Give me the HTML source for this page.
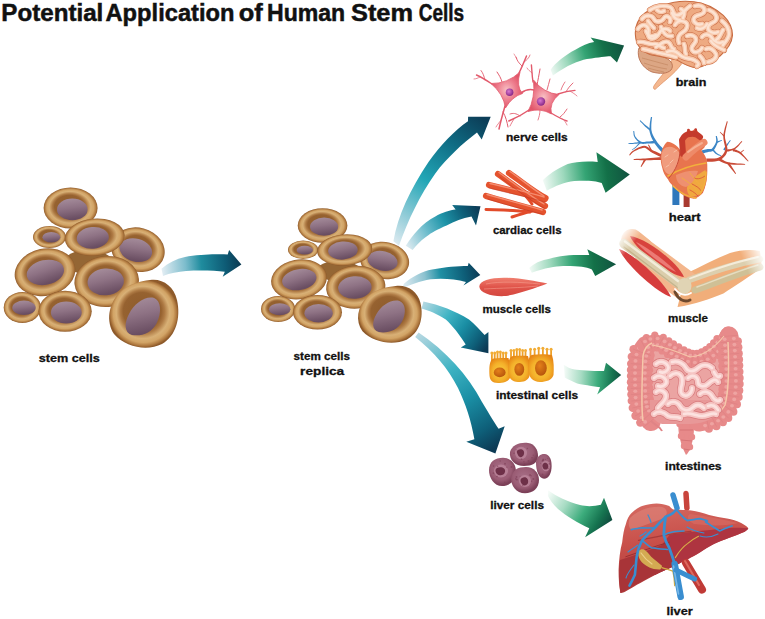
<!DOCTYPE html>
<html><head><meta charset="utf-8">
<style>
html,body{margin:0;padding:0;background:#fff;width:765px;height:619px;overflow:hidden}
svg{display:block}
.t{font-family:"Liberation Sans",sans-serif;font-weight:bold;fill:#111}
.ti{font-size:23.5px;stroke:#111;stroke-width:0.5}
.lb{font-size:11.5px;stroke:#111;stroke-width:0.3}
</style></head><body>
<svg width="765" height="619" viewBox="0 0 765 619">
<defs>
  <radialGradient id="cg" cx="50%" cy="50%" r="50%" fx="45%" fy="42%">
    <stop offset="0" stop-color="#8e5c2c"/>
    <stop offset="0.55" stop-color="#966230"/>
    <stop offset="0.64" stop-color="#ae7a44"/>
    <stop offset="0.77" stop-color="#d8b076"/>
    <stop offset="0.87" stop-color="#d2a466"/>
    <stop offset="0.95" stop-color="#b07a40"/>
    <stop offset="1" stop-color="#8e5a2a"/>
  </radialGradient>
  <linearGradient id="ng" x1="0" y1="0" x2="0.2" y2="1">
    <stop offset="0" stop-color="#a8909e"/>
    <stop offset="0.5" stop-color="#8e7284"/>
    <stop offset="1" stop-color="#6a4e62"/>
  </linearGradient>
  <g id="cell">
    <ellipse cx="0" cy="0" rx="1" ry="1" fill="url(#cg)"/>
  </g>
  <g id="cluster">
    <ellipse cx="88" cy="262" rx="24" ry="12" fill="#946634"/>
    <!-- C -->
    <g transform="translate(138,249.7) rotate(15)"><ellipse rx="27" ry="22" fill="url(#cg)"/><ellipse cx="-2" cy="1" rx="16.6" ry="11.5" fill="url(#ng)"/></g>
    <!-- T -->
    <g transform="translate(70.6,208)"><ellipse rx="27" ry="20.5" fill="url(#cg)"/><ellipse cx="1.7" cy="1.4" rx="15.3" ry="10.8" fill="url(#ng)"/></g>
    <!-- S -->
    <g transform="translate(49.5,237)"><ellipse rx="16.5" ry="11" fill="url(#cg)"/><ellipse cx="1.8" cy="0.3" rx="8.9" ry="5.2" fill="url(#ng)"/></g>
    <!-- B -->
    <g transform="translate(94.7,237.2) rotate(-5)"><ellipse rx="30" ry="18.6" fill="url(#cg)"/><ellipse cx="-2" cy="0.5" rx="16.1" ry="10.8" fill="url(#ng)"/></g>
    <!-- D -->
    <g transform="translate(45,272.2) rotate(-12)"><ellipse rx="30.6" ry="23.6" fill="url(#cg)"/><ellipse cx="0.3" cy="0.3" rx="18.9" ry="12.4" fill="url(#ng)"/></g>
    <!-- E -->
    <g transform="translate(106.7,281.5) rotate(-5)"><ellipse rx="32.3" ry="25.5" fill="url(#cg)"/><ellipse cx="-1" cy="0.3" rx="18.2" ry="13.4" fill="url(#ng)"/></g>
    <!-- F -->
    <g transform="translate(22.3,307.5)"><ellipse rx="18.6" ry="15.5" fill="url(#cg)"/><ellipse cx="1.7" cy="0.3" rx="11.7" ry="7.2" fill="url(#ng)"/></g>
    <!-- G -->
    <g transform="translate(65.1,311.3)"><ellipse rx="26.6" ry="20.5" fill="url(#cg)"/><ellipse cx="1.2" cy="1.2" rx="15.4" ry="10.9" fill="url(#ng)"/></g>
    <!-- H -->
    <path d="M150,280 C162,278 174,286 177,300 C181,318 176,336 162,344 C148,351 126,348 114,334 C106,322 108,304 120,292 C128,284 140,281 150,280 Z" fill="url(#cg)"/>
    <path d="M158,293 C166,296 167,310 161,322 C155,334 143,338 132,336 C123,333 123,322 129,311 C135,299 148,290 158,293 Z" fill="url(#ng)" transform="translate(143,316) scale(0.86) translate(-145,-314)"/>
  </g>
</defs>

<text class="t ti" x="1.3" y="21.2" textLength="102.0" lengthAdjust="spacingAndGlyphs">Potential</text>
<text class="t ti" x="105.5" y="21.2" textLength="129.0" lengthAdjust="spacingAndGlyphs">Application</text>
<text class="t ti" x="238.8" y="21.2" textLength="24.0" lengthAdjust="spacingAndGlyphs">of</text>
<text class="t ti" x="267.0" y="21.2" textLength="78.2" lengthAdjust="spacingAndGlyphs">Human</text>
<text class="t ti" x="351.0" y="21.2" textLength="62.0" lengthAdjust="spacingAndGlyphs">Stem</text>
<text class="t ti" x="418.8" y="21.2" textLength="45.3" lengthAdjust="spacingAndGlyphs">Cells</text>


<defs>
  <linearGradient id="ba0" gradientUnits="userSpaceOnUse" x1="162" y1="270" x2="241" y2="264">
    <stop offset="0" stop-color="#e2edf3"/><stop offset="0.3" stop-color="#7cbccc"/><stop offset="0.5" stop-color="#1f8c9e"/><stop offset="0.8" stop-color="#0e5c76"/><stop offset="1" stop-color="#0b3a52"/>
  </linearGradient>
  <linearGradient id="ba1" gradientUnits="userSpaceOnUse" x1="396" y1="244" x2="485" y2="120">
    <stop offset="0" stop-color="#dceaf0"/><stop offset="0.2" stop-color="#8ccad6"/><stop offset="0.45" stop-color="#22a6b6"/><stop offset="0.75" stop-color="#0f6c84"/><stop offset="1" stop-color="#0c3e58"/>
  </linearGradient>
  <linearGradient id="ba2" gradientUnits="userSpaceOnUse" x1="408" y1="248" x2="480" y2="210">
    <stop offset="0" stop-color="#dceaf0"/><stop offset="0.3" stop-color="#6cbccc"/><stop offset="0.55" stop-color="#1e94a8"/><stop offset="0.8" stop-color="#0e5e78"/><stop offset="1" stop-color="#0c3a55"/>
  </linearGradient>
  <linearGradient id="ba3" gradientUnits="userSpaceOnUse" x1="402" y1="285" x2="480" y2="272">
    <stop offset="0" stop-color="#e4eef4"/><stop offset="0.3" stop-color="#8cc2d0"/><stop offset="0.5" stop-color="#2090a4"/><stop offset="0.8" stop-color="#0e5e78"/><stop offset="1" stop-color="#0c3a55"/>
  </linearGradient>
  <linearGradient id="ba4" gradientUnits="userSpaceOnUse" x1="422" y1="305" x2="485" y2="350">
    <stop offset="0" stop-color="#b4d8e2"/><stop offset="0.35" stop-color="#40b4c4"/><stop offset="0.6" stop-color="#1a8ea4"/><stop offset="0.85" stop-color="#0e5e78"/><stop offset="1" stop-color="#0c3a55"/>
  </linearGradient>
  <linearGradient id="ba5" gradientUnits="userSpaceOnUse" x1="416" y1="335" x2="492" y2="450">
    <stop offset="0" stop-color="#b8d8e2"/><stop offset="0.35" stop-color="#3cb2c2"/><stop offset="0.6" stop-color="#1a8ea4"/><stop offset="0.85" stop-color="#0e5e78"/><stop offset="1" stop-color="#0c3a55"/>
  </linearGradient>
  <linearGradient id="ga1" gradientUnits="userSpaceOnUse" x1="550" y1="72" x2="624" y2="48">
    <stop offset="0" stop-color="#f4fbf7"/><stop offset="0.25" stop-color="#9cd8bc"/><stop offset="0.5" stop-color="#34a474"/><stop offset="0.75" stop-color="#137048"/><stop offset="1" stop-color="#115440"/>
  </linearGradient>
  <linearGradient id="ga2" gradientUnits="userSpaceOnUse" x1="543" y1="185" x2="629" y2="175">
    <stop offset="0" stop-color="#f4fbf7"/><stop offset="0.25" stop-color="#9cd8bc"/><stop offset="0.5" stop-color="#34a474"/><stop offset="0.75" stop-color="#137048"/><stop offset="1" stop-color="#115440"/>
  </linearGradient>
  <linearGradient id="ga3" gradientUnits="userSpaceOnUse" x1="529" y1="270" x2="616" y2="264">
    <stop offset="0" stop-color="#f4fbf7"/><stop offset="0.25" stop-color="#9cd8bc"/><stop offset="0.5" stop-color="#34a474"/><stop offset="0.75" stop-color="#137048"/><stop offset="1" stop-color="#115440"/>
  </linearGradient>
  <linearGradient id="ga4" gradientUnits="userSpaceOnUse" x1="564" y1="372" x2="621" y2="375">
    <stop offset="0" stop-color="#f4fbf7"/><stop offset="0.3" stop-color="#a8dcc4"/><stop offset="0.6" stop-color="#3cac7c"/><stop offset="0.85" stop-color="#167450"/><stop offset="1" stop-color="#105040"/>
  </linearGradient>
  <linearGradient id="ga5" gradientUnits="userSpaceOnUse" x1="549" y1="493" x2="606" y2="527">
    <stop offset="0" stop-color="#f4fbf7"/><stop offset="0.3" stop-color="#a8dcc4"/><stop offset="0.6" stop-color="#3cac7c"/><stop offset="0.85" stop-color="#167450"/><stop offset="1" stop-color="#105040"/>
  </linearGradient>
</defs>
<path fill="url(#ba0)" d="M161.5,268.8 C168,263 176,259 185,257 C196,255 210,254 227.7,254.4 L229.1,250 L241.4,264.5 L222.7,276.7 L224.8,271.7 C215,270.5 200,270 186,270.9 C178,271.5 170,273 163,276 Z"/>
<path fill="url(#ba1)" d="M393.4,241.3 C398,215 410,190 428.5,162 C440,146 455,130 468,121.3 L468.1,116.8 L490.7,116.8 L481.7,139.4 L477,132.6 C462,144 447,158 435.3,173.4 C420,195 408,220 399,245.8 Z"/>
<path fill="url(#ba2)" d="M405.8,245.8 C412,236 422,223 435.3,216.4 C442,213 450,210 455.6,209.6 L452.2,205 L480.5,206.2 L476,225.4 L471.5,216.4 C462,218 455,221 446.6,225.4 C438,229 432,232 426.2,236.8 C420,241 416,246 412.6,250 Z"/>
<path fill="url(#ba3)" d="M403.9,283.7 C412,277 422,271 432,269.5 C445,267 458,266 467.8,266 L468.7,262.8 L480.3,274.9 L463.4,285.5 L466,282 C455,279 442,278 430.5,279.3 C420,281 410,285 402.1,288.2 Z"/>
<path fill="url(#ba4)" d="M423.4,301.5 C440,305 455,311 469,319.4 C475,324 480,330 484.6,334.9 L488.4,332 L488.4,353.3 L460.8,347.5 L465.7,344.6 C460,335 452,325 445.8,319.4 C437,314 430,311 421.6,308.6 Z"/>
<path fill="url(#ba5)" d="M418.6,332.4 C445,350 468,375 482,402 C490,415 495,424 498.6,428.7 L504.7,426.3 L495.4,453.4 L466.3,441.7 L474.4,439.2 C471,420 466,405 458,388 C448,368 434,352 415.2,337 Z"/>
<path fill="url(#ga1)" d="M550.6,69.7 C555,63 565,55 575.3,49.7 C582,46 588,43 594.1,42.1 L590.6,37.4 L624.1,45.6 L617,62.6 L610.6,56.2 C605,56.5 600,57 587,59.1 C578,61 568,65 552.9,75.6 Z"/>
<path fill="url(#ga2)" d="M542.8,180.3 C548,175 556,169 567.7,164 C575,162 585,161 597.7,162 L596.4,152.2 L629.8,174.4 L605.6,192.7 L601.7,182.9 C595,181 588,180.3 574.2,181 C565,182 555,186 546.8,190.8 Z"/>
<path fill="url(#ga3)" d="M529.2,268.1 C535,263 540,261 546.1,259.6 C555,257 565,255 578.8,255 L589.3,255 L587.3,249.2 L616.1,264.2 L595.2,276 L591.9,269.4 C585,267 580,266 563.1,266.1 C555,266.5 545,268 531.8,272.7 Z"/>
<path fill="url(#ga4)" d="M563.8,364.7 C567,367 570,368.5 574.6,369.6 C580,370.5 590,371.1 604,371.1 L606,362.7 L621.2,375 L597.2,394.6 L600.1,387.3 C595,386.5 590,386 587.4,385.3 C582,384.5 578,384 576.6,383.3 C572,381 568,379.5 564.8,377.5 Z"/>
<path fill="url(#ga5)" d="M548.4,490.5 C556,496 568,502 580,505 C588,507 595,506 600.9,504.7 L604,497.8 L612.4,519.9 L585.1,537.2 L589.3,528.3 C578,523 566,516 558,509 C553,504 550,500 547.9,495.7 Z"/>
<use href="#cluster"/>
<use href="#cluster" transform="translate(261,208.5) scale(0.92,0.84) translate(-3.7,-187.8)"/>



<!-- ===== NERVE CELLS ===== -->
<g id="nerve">
  <defs>
    <radialGradient id="nrg" cx="50%" cy="50%" r="50%">
      <stop offset="0" stop-color="#f8c0c4"/><stop offset="0.55" stop-color="#ee8090"/><stop offset="1" stop-color="#e2566a"/>
    </radialGradient>
    <radialGradient id="nucg" cx="40%" cy="40%" r="60%">
      <stop offset="0" stop-color="#d878d0"/><stop offset="1" stop-color="#8a2a88"/>
    </radialGradient>
  </defs>
  <g fill="none" stroke="#e25a6c" stroke-linecap="round">
    <path d="M492,84 C486,80 481,77 476.5,75" stroke-width="1.4"/>
    <path d="M485,80 C484,76 483,73 481,70.5" stroke-width="0.9"/>
    <path d="M480,77 C478,78 476,79 474,79" stroke-width="0.7"/>
    <path d="M502,82 C501,78 499,75 497,72" stroke-width="1"/>
    <path d="M519,73 C522,67 524,62 526.5,56" stroke-width="1.5"/>
    <path d="M522,66 C519,63 517,61 516,57" stroke-width="0.9"/>
    <path d="M524,62 C527,60 529,58 530,55" stroke-width="0.8"/>
    <path d="M517,59 C516,57 515,56 514,54" stroke-width="0.6"/>
    <path d="M505,106 C503,113 501,120 499,129" stroke-width="1.5"/>
    <path d="M503,112 C506,117 507,122 508,127" stroke-width="1"/>
    <path d="M501,120 C499,123 497,125 496,127" stroke-width="0.7"/>
    <path d="M521,93 C525,90 530,89 534,90" stroke-width="1.6"/>
    <path d="M533,82 C532,76 532,71 531.4,65" stroke-width="1.4"/>
    <path d="M537,85 C538,80 539,75 540,69" stroke-width="1"/>
    <path d="M532,73 C530,71 528,70 527,68" stroke-width="0.7"/>
    <path d="M558,94 C564,92 569,91 575,90.4" stroke-width="1.4"/>
    <path d="M566,92 C568,88 570,86 573,83" stroke-width="0.9"/>
    <path d="M561,90 C562,87 563,85 565,82" stroke-width="0.8"/>
    <path d="M570,91 C573,93 575,94 577,96" stroke-width="0.7"/>
    <path d="M551,113 C556,116 561,119 567,121" stroke-width="1.4"/>
    <path d="M560,117 C563,115 565,112 567,109" stroke-width="0.9"/>
    <path d="M563,119 C565,121 566,123 567,125" stroke-width="0.7"/>
    <path d="M529,110 C522,115 516,118 508.8,121" stroke-width="1.5"/>
    <path d="M520,116 C516,113 513,113 510,114" stroke-width="0.9"/>
    <path d="M514,119 C512,122 511,124 510,126" stroke-width="0.8"/>
    <path d="M547,90 C548,86 549,83 550,79" stroke-width="0.9"/>
    <path d="M540,110 C540,114 539,117 538,120" stroke-width="0.8"/>
  </g>
  <path d="M491.0,83.5 Q507.3,83.9 520.0,72.0 Q516.0,86.7 522.5,93.5 Q512.0,96.6 505.5,108.0 Q503.4,93.8 491.0,83.5 Z" fill="url(#nrg)" stroke="#e25a6c" stroke-width="0.8"/>
  <path d="M533.5,80.0 Q543.9,93.4 559.0,94.5 Q548.8,102.8 551.5,114.0 Q540.3,107.5 528.0,111.5 Q535.4,98.1 533.5,80.0 Z" fill="url(#nrg)" stroke="#e25a6c" stroke-width="0.8"/>
  <circle cx="509.6" cy="92.2" r="3.8" fill="url(#nucg)"/>
  <circle cx="541" cy="101.5" r="4.2" fill="url(#nucg)"/>
</g>

<!-- ===== CARDIAC CELLS ===== -->
<g id="cardiac" fill="none" stroke-linecap="round" filter="url(#softc)">
  <defs><filter id="softc" x="-10%" y="-10%" width="120%" height="120%"><feGaussianBlur stdDeviation="0.45"/></filter></defs>
  <g stroke="#e4522e" stroke-width="6.2">
    <path d="M498,174 C515,186 530,198 545,206"/>
    <path d="M509,173 C522,182 534,192 545.5,198"/>
    <path d="M489,185 C508,190 528,194 545,199"/>
    <path d="M486,196 C506,202 526,207 543,212"/>
  </g>
  <g stroke="#e24c2c" stroke-width="3">
    <path d="M486,209.5 C500,210 514,210 530,212"/>
    <path d="M512,217 C518,215 524,213 532,211"/>
    <path d="M520,190 C524,194 528,198 532,204"/>
  </g>
  <g stroke="#f8977a" stroke-width="1.4" opacity="0.85">
    <path d="M499,172.5 C515,184 530,196 544,204"/>
    <path d="M510,171.5 C522,180 534,190 544,196"/>
    <path d="M490,183.5 C508,188 528,192 544,197"/>
    <path d="M487,194.5 C506,200 526,205 542,210"/>
  </g>
  <g stroke="#b83220" stroke-width="0.8" opacity="0.6">
    <path d="M500,177 C515,189 530,200 544,208"/>
    <path d="M489,188 C508,193 528,197 545,202"/>
    <path d="M488,199 C506,205 526,210 542,214"/>
  </g>
</g>

<!-- ===== MUSCLE CELL ===== -->
<g id="musclecell">
  <defs>
    <linearGradient id="mcg" x1="0" y1="0" x2="0" y2="1">
      <stop offset="0" stop-color="#f08070"/><stop offset="0.5" stop-color="#e0544a"/><stop offset="1" stop-color="#d44840"/>
    </linearGradient>
  </defs>
  <path d="M479.4,287 C478.5,281 490,277.5 505,277.7 C520,278 535,281 547.4,283.5 C535,288 522,293 506,296 C492,297 480,293 479.4,287 Z" fill="url(#mcg)"/>
  <g stroke="#f6a090" stroke-width="0.7" fill="none" opacity="0.8">
    <path d="M486,284 C500,281 520,282 540,284"/>
    <path d="M484,289 C500,288 520,288 538,286"/>
  </g>
</g>

<!-- ===== INTESTINAL CELLS ===== -->
<g id="intestinal">
  <defs>
    <radialGradient id="icg" cx="50%" cy="55%" r="60%">
      <stop offset="0" stop-color="#fad040"/><stop offset="0.6" stop-color="#f4b02a"/><stop offset="1" stop-color="#e68414"/>
    </radialGradient>
    <radialGradient id="inucg" cx="40%" cy="35%" r="65%">
      <stop offset="0" stop-color="#e4801a"/><stop offset="1" stop-color="#b8560c"/>
    </radialGradient>
  </defs>
  <g stroke="#eea028" stroke-width="1.8" stroke-linecap="round" fill="none">
    <path d="M491.9,360.6 L491.9,354.6"/><path d="M494.7,360.6 L494.7,354.6"/><path d="M497.5,360.6 L497.5,353.6"/><path d="M500.4,360.6 L500.4,353.6"/><path d="M503.2,360.6 L503.2,354.6"/><path d="M506.0,360.6 L506.0,354.6"/><path d="M511.0,358.0 L511.0,352.0"/><path d="M513.9,358.0 L513.9,352.0"/><path d="M516.8,358.0 L516.8,351.0"/><path d="M519.7,358.0 L519.7,351.0"/><path d="M522.6,358.0 L522.6,352.0"/><path d="M525.5,358.0 L525.5,352.0"/><path d="M530.5,356.7 L530.5,350.7"/><path d="M534.6,356.7 L534.6,350.7"/><path d="M538.7,356.7 L538.7,349.7"/><path d="M542.9,356.7 L542.9,349.7"/><path d="M547.0,356.7 L547.0,350.7"/><path d="M551.1,356.7 L551.1,350.7"/>
  </g>
  <g fill="#f2ac34">
    <circle cx="491.9" cy="353.1" r="1.5"/><circle cx="494.7" cy="353.1" r="1.5"/><circle cx="497.5" cy="352.1" r="1.5"/><circle cx="500.4" cy="352.1" r="1.5"/><circle cx="503.2" cy="353.1" r="1.5"/><circle cx="506.0" cy="353.1" r="1.5"/><circle cx="511.0" cy="350.5" r="1.5"/><circle cx="513.9" cy="350.5" r="1.5"/><circle cx="516.8" cy="349.5" r="1.5"/><circle cx="519.7" cy="349.5" r="1.5"/><circle cx="522.6" cy="350.5" r="1.5"/><circle cx="525.5" cy="350.5" r="1.5"/><circle cx="530.5" cy="349.2" r="1.5"/><circle cx="534.6" cy="349.2" r="1.5"/><circle cx="538.7" cy="348.2" r="1.5"/><circle cx="542.9" cy="348.2" r="1.5"/><circle cx="547.0" cy="349.2" r="1.5"/><circle cx="551.1" cy="349.2" r="1.5"/>
  </g>
  <path d="M489.4,374 C489,366 490,359 494,358.6 C499,358 504,358 508.5,358 C510,364 511,372 510,378 C508,382 503,383 498,383 C492,383 489.5,380 489.4,374 Z" fill="url(#icg)"/>
  <path d="M508,370 C508,362 509,357 513,356 C518,355.5 524,355.5 528,356 C530,362 530,370 529.5,376 C528,381 523,382 518,382 C512,382 508,378 508,370 Z" fill="url(#icg)"/>
  <path d="M528,368 C528,360 529,355 533,354.7 C539,354 547,354 552,355 C554,361 554,369 553.5,375 C552,380 546,382 540,382 C533,382 528,377 528,368 Z" fill="url(#icg)"/>
  <ellipse cx="499.7" cy="372.4" rx="5.9" ry="4.9" fill="url(#inucg)"/>
  <ellipse cx="519.3" cy="369.4" rx="4.9" ry="6.4" fill="url(#inucg)"/>
  <ellipse cx="540.9" cy="368" rx="5.9" ry="7.8" fill="url(#inucg)"/>
</g>

<!-- ===== LIVER CELLS ===== -->
<g id="livercells">
  <defs>
    <radialGradient id="lcg" cx="45%" cy="40%" r="55%">
      <stop offset="0" stop-color="#a87088"/><stop offset="0.7" stop-color="#9a5c74"/><stop offset="1" stop-color="#7c4058"/>
    </radialGradient>
    <radialGradient id="lnucg" cx="50%" cy="50%" r="50%">
      <stop offset="0" stop-color="#6a2c44"/><stop offset="0.65" stop-color="#80405a"/><stop offset="1" stop-color="#b88498"/>
    </radialGradient>
  </defs>
  <path d="M510,452 C512,445 520,442 528,443 C535,444 538,450 538,456 C538,463 532,466 524,466 C515,466 509,460 510,452 Z" fill="url(#lcg)"/>
  <path d="M489,470 C489,462 495,457.8 503,457.8 C511,458 516,464 516,472 C516,480 510,486 502,486 C494,486 489,478 489,470 Z" fill="url(#lcg)"/>
  <path d="M536,462 C537,456 541,453.6 545,454 C550,455 551.6,460 551.6,466 C551.6,473 549,478.7 544,478.7 C539,478 536,472 536,462 Z" fill="url(#lcg)"/>
  <path d="M511,478 C512,470 518,467 526,467 C534,467 539,473 539,480 C539,488 533,493.3 525,493.3 C516,493 511,486 511,478 Z" fill="url(#lcg)"/>
  <ellipse cx="521" cy="453" rx="6" ry="6.2" fill="#c08aa0" opacity="0.7"/>
  <ellipse cx="501" cy="471" rx="7" ry="6.5" fill="#c08aa0" opacity="0.7"/>
  <ellipse cx="546" cy="466" rx="4.2" ry="5.2" fill="#c08aa0" opacity="0.7"/>
  <ellipse cx="525" cy="481" rx="6" ry="6" fill="#c08aa0" opacity="0.7"/>
  <path d="M518,450 C521,448 525,450 524,454 C523,458 519,458 518,455 C517,453 516,451 518,450 Z" fill="#6e3048"/>
  <path d="M497,468 C501,466 506,468 505,472 C504,476 499,476 497,474 C495,472 495,469 497,468 Z" fill="#6e3048"/>
  <path d="M544,463 C547,462 549,465 548,468 C547,470 544,470 543,468 C542,466 542,464 544,463 Z" fill="#6e3048"/>
  <path d="M522,478 C526,476 529,479 528,483 C527,486 523,486 522,484 C520,482 520,479 522,478 Z" fill="#6e3048"/>
  <circle cx="523.9" cy="461.8" r="0.7" fill="#7a3a52" opacity="0.55"/>
  <circle cx="516.3" cy="449.8" r="0.5" fill="#7a3a52" opacity="0.55"/>
  <circle cx="533.2" cy="455.2" r="0.6" fill="#7a3a52" opacity="0.55"/>
  <circle cx="524.4" cy="463.9" r="0.7" fill="#7a3a52" opacity="0.55"/>
  <circle cx="527.4" cy="448.5" r="0.8" fill="#7a3a52" opacity="0.55"/>
  <circle cx="528.5" cy="460.8" r="0.9" fill="#7a3a52" opacity="0.55"/>
  <circle cx="514.0" cy="453.3" r="0.8" fill="#7a3a52" opacity="0.55"/>
  <circle cx="532.0" cy="457.8" r="0.8" fill="#7a3a52" opacity="0.55"/>
  <circle cx="521.5" cy="459.1" r="0.9" fill="#7a3a52" opacity="0.55"/>
  <circle cx="493.4" cy="473.1" r="0.9" fill="#7a3a52" opacity="0.55"/>
  <circle cx="500.2" cy="461.0" r="0.7" fill="#7a3a52" opacity="0.55"/>
  <circle cx="505.0" cy="463.8" r="1.0" fill="#7a3a52" opacity="0.55"/>
  <circle cx="506.8" cy="467.2" r="0.6" fill="#7a3a52" opacity="0.55"/>
  <circle cx="504.7" cy="482.3" r="0.7" fill="#7a3a52" opacity="0.55"/>
  <circle cx="497.6" cy="466.3" r="0.8" fill="#7a3a52" opacity="0.55"/>
  <circle cx="497.0" cy="476.5" r="0.8" fill="#7a3a52" opacity="0.55"/>
  <circle cx="493.6" cy="466.1" r="0.8" fill="#7a3a52" opacity="0.55"/>
  <circle cx="511.5" cy="467.0" r="1.0" fill="#7a3a52" opacity="0.55"/>
  <circle cx="542.4" cy="460.9" r="0.9" fill="#7a3a52" opacity="0.55"/>
  <circle cx="549.4" cy="463.9" r="0.8" fill="#7a3a52" opacity="0.55"/>
  <circle cx="543.2" cy="460.2" r="0.9" fill="#7a3a52" opacity="0.55"/>
  <circle cx="540.6" cy="463.2" r="0.5" fill="#7a3a52" opacity="0.55"/>
  <circle cx="547.5" cy="458.2" r="0.5" fill="#7a3a52" opacity="0.55"/>
  <circle cx="545.3" cy="459.4" r="0.6" fill="#7a3a52" opacity="0.55"/>
  <circle cx="542.6" cy="474.4" r="0.9" fill="#7a3a52" opacity="0.55"/>
  <circle cx="548.5" cy="468.2" r="0.5" fill="#7a3a52" opacity="0.55"/>
  <circle cx="543.2" cy="459.5" r="0.9" fill="#7a3a52" opacity="0.55"/>
  <circle cx="533.4" cy="479.1" r="1.0" fill="#7a3a52" opacity="0.55"/>
  <circle cx="522.8" cy="485.2" r="0.8" fill="#7a3a52" opacity="0.55"/>
  <circle cx="531.6" cy="481.2" r="0.7" fill="#7a3a52" opacity="0.55"/>
  <circle cx="520.0" cy="476.2" r="0.5" fill="#7a3a52" opacity="0.55"/>
  <circle cx="530.0" cy="475.0" r="1.0" fill="#7a3a52" opacity="0.55"/>
  <circle cx="531.2" cy="475.7" r="0.7" fill="#7a3a52" opacity="0.55"/>
  <circle cx="515.8" cy="478.9" r="0.8" fill="#7a3a52" opacity="0.55"/>
  <circle cx="516.5" cy="476.9" r="1.0" fill="#7a3a52" opacity="0.55"/>
  <circle cx="517.0" cy="479.7" r="0.9" fill="#7a3a52" opacity="0.55"/>
</g>

<!-- ===== BRAIN ===== -->
<g id="brain">
  <path d="M676,57 C679,60 681,62 681.5,64 C678,69 673,74 667,79 C662,83 658,87 655,89.5 C653,89 653,87 654.5,85 C658,80 663,74 667,69 C670,65 672,61 672,58 Z" fill="#f4b890" stroke="#dc8c5e" stroke-width="0.7"/>
  <path d="M639,48 C647,50 657,54 666,58 C672,61 674,66 671,70 C667,74 660,74 652,72 C645,69 641,64 639,58 C638,54 638,51 639,48 Z" fill="#dca684" stroke="#b87050" stroke-width="0.9"/>
  <g stroke="#b07048" stroke-width="0.5" fill="none" opacity="0.8">
    <path d="M642,58 C650,60 660,63 668,65"/><path d="M644,63 C652,66 660,68 667,69"/><path d="M648,68 C654,70 660,71 664,72"/>
  </g>
  <path d="M663.4,5.4 C672,2 684,0.5 694,1.8 C705,3 716,9 723.3,15.4 C729,21 732.5,29 732.5,35.3 C732,43 727,50 720,56 C713,61 704,67 697.2,67.6 C690,68 682,63 677,60 C670,58 660,57 650,54.5 C641,51 636,44 635.5,36 C634.5,27 638,19 645,13 C650,9 657,7 663.4,5.4 Z" fill="#eeaa82" stroke="#c86c42" stroke-width="1.1"/>
  <g fill="none" stroke-linecap="round" stroke-linejoin="round">
    <g stroke="#d27850" stroke-width="6.2"><path d="M643,49 C650,50.5 656,52.5 662,53.5 C668,54.5 672,56 676,57"/><path d="M650,10 C656,6 664,5 670,7 C674,9 672,14 676,15 C682,16 684,10 690,6"/>
<path d="M642,19 C646,14 652,15 654,19 C656,23 662,22 664,18 C666,14 672,18 670,22"/>
<path d="M638,29 C641,24 646,24 648,28 C650,32 646,36 650,38 C654,40 658,36 660,32 C662,28 668,28 670,31"/>
<path d="M639,42 C644,41 650,45 654,44 C658,43 660,47 664,48"/>
<path d="M675,25 C677,21 681,20 685,22 C689,24 687,30 683,32 C679,34 677,38 679,43"/>
<path d="M695,6 C701,4 706,8 704,12 C702,16 696,14 694,18 C692,22 698,26 702,24"/>
<path d="M709,10 C714,12 718,16 716,20 C714,24 708,22 708,28 C708,32 714,34 718,32"/>
<path d="M722,21 C726,24 729,28 729,34 C729,38 726,41 723,45"/>
<path d="M687,36 C691,34 696,36 696,40 C696,44 690,46 692,50 C694,54 700,52 702,48"/>
<path d="M702,37 C705,33 710,34 712,38 C714,42 719,44 723,42"/>
<path d="M706,49 C710,47 714,50 716,54 C717,58 713,61 708,62"/>
<path d="M667,52 C671,50 676,51 680,55 C684,59 690,58 694,60 C698,62 700,64 697,66"/>
<path d="M656,47 C660,45 664,40 668,42 C672,44 670,48 674,49"/>
<path d="M661,27 C663,33 667,37 672,36"/>
<path d="M681,9 C685,11 685,14 683,18"/>
<path d="M697,28 C701,30 705,28 707,24"/>
<path d="M646,31 C648,37 652,37 656,35"/>
<path d="M657,10 C660,13 662,12 664,11"/>
<path d="M711,41 C714,46 720,48 724,50"/>
<path d="M684,44 C686,48 684,52 686,54"/>
<path d="M700,56 C702,58 704,60 704,63"/>
<path d="M723,30 C720,34 720,38 716,40"/>
<path d="M648,21 C650,24 652,26 654,28"/>
<path d="M672,13 C674,18 676,20 680,20"/></g>
    <g stroke="#f8caae" stroke-width="5.0"><path d="M643,49 C650,50.5 656,52.5 662,53.5 C668,54.5 672,56 676,57"/><path d="M650,10 C656,6 664,5 670,7 C674,9 672,14 676,15 C682,16 684,10 690,6"/>
<path d="M642,19 C646,14 652,15 654,19 C656,23 662,22 664,18 C666,14 672,18 670,22"/>
<path d="M638,29 C641,24 646,24 648,28 C650,32 646,36 650,38 C654,40 658,36 660,32 C662,28 668,28 670,31"/>
<path d="M639,42 C644,41 650,45 654,44 C658,43 660,47 664,48"/>
<path d="M675,25 C677,21 681,20 685,22 C689,24 687,30 683,32 C679,34 677,38 679,43"/>
<path d="M695,6 C701,4 706,8 704,12 C702,16 696,14 694,18 C692,22 698,26 702,24"/>
<path d="M709,10 C714,12 718,16 716,20 C714,24 708,22 708,28 C708,32 714,34 718,32"/>
<path d="M722,21 C726,24 729,28 729,34 C729,38 726,41 723,45"/>
<path d="M687,36 C691,34 696,36 696,40 C696,44 690,46 692,50 C694,54 700,52 702,48"/>
<path d="M702,37 C705,33 710,34 712,38 C714,42 719,44 723,42"/>
<path d="M706,49 C710,47 714,50 716,54 C717,58 713,61 708,62"/>
<path d="M667,52 C671,50 676,51 680,55 C684,59 690,58 694,60 C698,62 700,64 697,66"/>
<path d="M656,47 C660,45 664,40 668,42 C672,44 670,48 674,49"/>
<path d="M661,27 C663,33 667,37 672,36"/>
<path d="M681,9 C685,11 685,14 683,18"/>
<path d="M697,28 C701,30 705,28 707,24"/>
<path d="M646,31 C648,37 652,37 656,35"/>
<path d="M657,10 C660,13 662,12 664,11"/>
<path d="M711,41 C714,46 720,48 724,50"/>
<path d="M684,44 C686,48 684,52 686,54"/>
<path d="M700,56 C702,58 704,60 704,63"/>
<path d="M723,30 C720,34 720,38 716,40"/>
<path d="M648,21 C650,24 652,26 654,28"/>
<path d="M672,13 C674,18 676,20 680,20"/></g>
    <g stroke="#fde6d8" stroke-width="2.2" opacity="0.9"><path d="M643,49 C650,50.5 656,52.5 662,53.5 C668,54.5 672,56 676,57"/><path d="M650,10 C656,6 664,5 670,7 C674,9 672,14 676,15 C682,16 684,10 690,6"/>
<path d="M642,19 C646,14 652,15 654,19 C656,23 662,22 664,18 C666,14 672,18 670,22"/>
<path d="M638,29 C641,24 646,24 648,28 C650,32 646,36 650,38 C654,40 658,36 660,32 C662,28 668,28 670,31"/>
<path d="M639,42 C644,41 650,45 654,44 C658,43 660,47 664,48"/>
<path d="M675,25 C677,21 681,20 685,22 C689,24 687,30 683,32 C679,34 677,38 679,43"/>
<path d="M695,6 C701,4 706,8 704,12 C702,16 696,14 694,18 C692,22 698,26 702,24"/>
<path d="M709,10 C714,12 718,16 716,20 C714,24 708,22 708,28 C708,32 714,34 718,32"/>
<path d="M722,21 C726,24 729,28 729,34 C729,38 726,41 723,45"/>
<path d="M687,36 C691,34 696,36 696,40 C696,44 690,46 692,50 C694,54 700,52 702,48"/>
<path d="M702,37 C705,33 710,34 712,38 C714,42 719,44 723,42"/>
<path d="M706,49 C710,47 714,50 716,54 C717,58 713,61 708,62"/>
<path d="M667,52 C671,50 676,51 680,55 C684,59 690,58 694,60 C698,62 700,64 697,66"/>
<path d="M656,47 C660,45 664,40 668,42 C672,44 670,48 674,49"/>
<path d="M661,27 C663,33 667,37 672,36"/>
<path d="M681,9 C685,11 685,14 683,18"/>
<path d="M697,28 C701,30 705,28 707,24"/>
<path d="M646,31 C648,37 652,37 656,35"/>
<path d="M657,10 C660,13 662,12 664,11"/>
<path d="M711,41 C714,46 720,48 724,50"/>
<path d="M684,44 C686,48 684,52 686,54"/>
<path d="M700,56 C702,58 704,60 704,63"/>
<path d="M723,30 C720,34 720,38 716,40"/>
<path d="M648,21 C650,24 652,26 654,28"/>
<path d="M672,13 C674,18 676,20 680,20"/></g>
  </g>
</g>

<!-- ===== HEART ===== -->
<g id="heart" stroke-linecap="round" stroke-linejoin="round" fill="none">
  <g stroke="none">
  <path d="M665.3,150.8 L664.4,149.8 L663.0,148.5 L661.5,147.0 L659.9,145.4 L658.4,143.7 L657.2,142.2 L656.1,140.6 L655.1,139.0 L654.2,137.4 L653.3,135.7 L652.6,134.2 L652.0,132.7 L651.7,131.3 L651.4,130.1 L651.3,128.9 L651.3,127.6 L651.3,126.3 L651.3,125.0 L651.4,123.6 L651.5,122.1 L651.7,120.6 L651.8,119.2 L652.0,118.0 L652.1,117.1 L650.9,116.9 L650.8,117.8 L650.5,119.0 L650.3,120.4 L650.0,121.9 L649.8,123.5 L649.7,125.0 L649.6,126.3 L649.5,127.6 L649.4,128.9 L649.4,130.3 L649.6,131.8 L650.0,133.3 L650.5,135.0 L651.1,136.7 L651.9,138.5 L652.8,140.3 L653.8,142.1 L654.8,143.8 L656.1,145.6 L657.6,147.4 L659.1,149.2 L660.6,150.9 L661.8,152.2 L662.7,153.2 Z" fill="#3b86c6"/>
  <path d="M651.1,129.3 L650.4,128.8 L649.6,128.2 L648.6,127.4 L647.5,126.6 L646.4,125.8 L645.5,125.0 L644.5,124.2 L643.5,123.3 L642.5,122.3 L641.6,121.5 L640.9,120.7 L640.3,120.2 L639.7,120.8 L640.2,121.4 L640.9,122.2 L641.8,123.1 L642.7,124.1 L643.6,125.1 L644.5,126.0 L645.5,126.9 L646.5,127.8 L647.6,128.7 L648.5,129.5 L649.4,130.2 L649.9,130.7 Z" fill="#3b86c6"/>
  <path d="M655.9,140.8 L655.0,140.9 L653.8,141.0 L652.4,141.1 L650.8,141.3 L649.3,141.4 L647.9,141.5 L646.7,141.6 L645.4,141.8 L644.3,142.0 L643.2,142.1 L642.2,142.1 L641.3,141.8 L640.3,141.3 L639.2,140.6 L638.1,139.7 L637.1,138.7 L636.2,137.6 L635.5,136.7 L635.0,135.7 L634.7,134.7 L634.5,133.6 L634.4,132.5 L634.3,131.6 L634.1,130.9 L633.3,131.1 L633.3,131.7 L633.4,132.6 L633.5,133.7 L633.6,134.9 L634.0,136.2 L634.5,137.3 L635.2,138.4 L636.1,139.6 L637.1,140.7 L638.3,141.8 L639.5,142.7 L640.7,143.4 L641.9,143.8 L643.2,143.9 L644.5,143.8 L645.7,143.7 L646.9,143.6 L648.1,143.5 L649.4,143.5 L651.0,143.4 L652.5,143.4 L654.0,143.3 L655.2,143.2 L656.1,143.2 Z" fill="#3b86c6"/>
  <path d="M640.9,141.9 L640.1,142.0 L639.1,142.1 L637.8,142.3 L636.4,142.5 L635.1,142.6 L634.0,142.8 L632.9,142.9 L631.8,143.0 L630.7,143.1 L629.8,143.1 L629.0,143.2 L628.4,143.3 L628.4,143.9 L629.0,143.9 L629.8,143.9 L630.8,143.9 L631.8,143.9 L633.0,143.9 L634.0,143.8 L635.2,143.8 L636.5,143.7 L637.9,143.6 L639.2,143.5 L640.3,143.4 L641.1,143.3 Z" fill="#3b86c6"/>
  <path d="M639.5,142.2 L639.1,142.7 L638.5,143.4 L637.9,144.3 L637.1,145.1 L636.4,146.0 L635.7,146.7 L635.0,147.3 L634.3,147.9 L633.5,148.5 L632.8,149.0 L632.3,149.4 L631.8,149.8 L632.2,150.2 L632.6,149.9 L633.2,149.5 L634.0,149.1 L634.8,148.5 L635.5,147.9 L636.3,147.3 L637.0,146.6 L637.8,145.8 L638.6,145.0 L639.4,144.2 L640.0,143.5 L640.5,143.0 Z" fill="#3b86c6"/>
  <path d="M702.4,153.6 L703.1,153.4 L704.0,153.2 L705.1,152.8 L706.2,152.5 L707.4,152.2 L708.3,151.9 L708.9,151.8 L709.6,151.7 L710.4,151.7 L711.4,151.6 L712.4,151.2 L713.4,150.5 L714.3,149.5 L715.1,148.2 L715.9,146.8 L716.6,145.3 L717.2,143.9 L717.6,142.5 L717.8,141.2 L717.7,139.8 L717.5,138.6 L717.2,137.5 L717.0,136.6 L716.8,135.9 L715.8,136.1 L715.8,136.8 L716.0,137.7 L716.1,138.8 L716.2,139.9 L716.2,141.1 L716.0,142.1 L715.5,143.2 L714.9,144.5 L714.1,145.8 L713.3,147.0 L712.5,148.0 L711.8,148.7 L711.3,149.0 L710.9,149.1 L710.4,149.1 L709.7,149.0 L708.8,149.0 L707.7,149.1 L706.7,149.3 L705.5,149.5 L704.3,149.8 L703.2,150.0 L702.3,150.2 L701.6,150.4 Z" fill="#3b86c6"/>
  <path d="M711.9,150.2 L712.4,150.7 L713.1,151.3 L713.9,152.1 L714.7,152.9 L715.6,153.7 L716.4,154.3 L717.3,154.8 L718.1,155.2 L719.0,155.5 L719.7,155.8 L720.4,156.0 L720.8,156.2 L721.2,155.4 L720.7,155.2 L720.1,154.9 L719.4,154.6 L718.6,154.2 L717.8,153.8 L717.2,153.3 L716.5,152.7 L715.8,151.9 L715.0,151.0 L714.3,150.2 L713.7,149.5 L713.3,149.0 Z" fill="#3b86c6"/>
  <path d="M717.1,142.9 L717.7,142.7 L718.6,142.2 L719.6,141.7 L720.6,141.2 L721.5,140.8 L722.1,140.5 L721.9,139.9 L721.2,140.1 L720.3,140.4 L719.2,140.8 L718.1,141.1 L717.2,141.4 L716.5,141.7 Z" fill="#3b86c6"/>
  <path d="M724.8,150.5 L725.1,149.9 L725.5,149.1 L726.0,148.2 L726.5,147.2 L727.0,146.2 L727.5,145.4 L728.1,144.5 L728.7,143.5 L729.3,142.6 L729.9,141.7 L730.4,141.0 L730.7,140.4 L730.1,140.0 L729.7,140.5 L729.1,141.2 L728.5,142.0 L727.8,142.9 L727.1,143.8 L726.5,144.6 L725.9,145.5 L725.2,146.5 L724.6,147.4 L724.0,148.3 L723.6,149.0 L723.2,149.5 Z" fill="#3b86c6"/>
  <path d="M662.6,154.6 L661.4,154.1 L659.8,153.4 L657.8,152.5 L655.7,151.6 L653.7,150.7 L652.1,150.0 L650.8,149.2 L649.6,148.4 L648.5,147.5 L647.3,146.7 L645.8,146.0 L644.2,145.8 L642.4,146.1 L640.4,146.8 L638.4,147.6 L636.5,148.6 L634.8,149.6 L633.4,150.4 L632.2,151.3 L631.3,152.1 L630.5,153.0 L629.9,153.8 L629.5,154.4 L629.1,154.9 L629.9,155.5 L630.3,155.1 L630.8,154.4 L631.4,153.7 L632.1,153.0 L633.0,152.2 L634.0,151.6 L635.5,150.8 L637.2,150.0 L639.1,149.1 L641.0,148.4 L642.8,147.9 L644.2,147.8 L645.3,148.0 L646.2,148.4 L647.2,149.2 L648.3,150.1 L649.5,151.1 L650.9,152.0 L652.6,153.0 L654.6,154.0 L656.6,155.0 L658.6,156.0 L660.2,156.8 L661.4,157.4 Z" fill="#c94a36"/>
  <path d="M652.2,150.6 L651.8,149.9 L651.2,148.8 L650.5,147.6 L649.8,146.3 L649.2,145.3 L648.8,144.5 L648.0,144.9 L648.4,145.7 L648.9,146.8 L649.4,148.1 L650.0,149.4 L650.5,150.6 L650.8,151.4 Z" fill="#c94a36"/>
  <path d="M660.9,157.1 L659.1,157.3 L656.7,157.5 L653.7,157.8 L650.7,158.1 L647.7,158.3 L645.2,158.5 L642.9,158.6 L640.6,158.7 L638.5,158.8 L636.5,158.8 L634.9,158.9 L633.7,158.9 L633.7,159.9 L634.9,159.9 L636.5,160.0 L638.5,160.1 L640.6,160.2 L642.9,160.3 L645.2,160.3 L647.8,160.3 L650.8,160.2 L653.9,160.1 L656.8,160.0 L659.3,159.9 L661.1,159.9 Z" fill="#c94a36"/>
  <path d="M644.3,158.9 L643.9,159.8 L643.2,161.1 L642.5,162.7 L641.7,164.2 L641.1,165.6 L640.6,166.5 L641.4,166.9 L642.0,166.1 L642.8,164.8 L643.7,163.4 L644.7,162.0 L645.5,160.7 L646.1,159.9 Z" fill="#c94a36"/>
  <path d="M706.3,161.8 L707.7,161.7 L709.7,161.7 L712.2,161.7 L714.8,161.5 L717.3,161.1 L719.5,160.4 L721.3,159.4 L722.9,158.1 L724.4,156.6 L725.7,154.9 L726.7,153.0 L727.3,150.9 L727.4,148.6 L727.0,146.1 L726.4,143.5 L725.7,140.9 L725.1,138.4 L724.9,136.0 L725.1,133.5 L725.6,130.7 L726.2,127.9 L726.8,125.3 L727.4,123.0 L727.8,121.4 L726.8,121.2 L726.4,122.8 L725.7,125.0 L724.9,127.6 L724.2,130.4 L723.6,133.3 L723.3,136.0 L723.4,138.6 L723.8,141.3 L724.4,144.0 L725.0,146.5 L725.2,148.7 L725.1,150.5 L724.5,152.1 L723.6,153.6 L722.5,154.9 L721.2,156.1 L719.8,157.0 L718.3,157.8 L716.7,158.3 L714.5,158.5 L712.1,158.6 L709.8,158.5 L707.7,158.4 L706.3,158.4 Z" fill="#c94a36"/>
  <path d="M726.4,151.8 L727.3,151.6 L728.6,151.4 L730.1,151.1 L731.8,150.6 L733.5,150.1 L735.0,149.3 L736.4,148.1 L737.9,146.7 L739.2,145.2 L740.5,143.6 L741.5,142.4 L742.3,141.5 L741.7,140.9 L740.9,141.8 L739.7,143.0 L738.4,144.4 L737.0,145.8 L735.5,147.0 L734.2,147.9 L732.9,148.5 L731.3,148.9 L729.8,149.2 L728.3,149.3 L727.0,149.5 L726.0,149.6 Z" fill="#c94a36"/>
  <path d="M732.6,151.1 L733.4,151.4 L734.4,151.6 L735.6,151.9 L736.8,152.3 L738.1,152.8 L739.4,153.5 L740.7,154.6 L742.4,156.0 L744.1,157.6 L745.6,159.2 L747.0,160.6 L748.0,161.5 L748.6,160.9 L747.7,159.9 L746.5,158.4 L745.0,156.7 L743.4,155.0 L741.9,153.3 L740.4,152.1 L739.0,151.1 L737.6,150.4 L736.3,149.8 L735.0,149.4 L734.1,149.1 L733.4,148.9 Z" fill="#c94a36"/>
  <path d="M718.3,160.2 L719.2,160.7 L720.5,161.4 L722.0,162.2 L723.8,163.0 L725.9,163.7 L728.1,164.3 L730.8,164.6 L733.9,164.7 L737.3,164.8 L740.5,164.8 L743.2,164.7 L745.1,164.7 L745.1,163.9 L743.2,163.7 L740.5,163.6 L737.3,163.4 L734.0,163.1 L731.0,162.8 L728.5,162.3 L726.5,161.7 L724.7,161.0 L723.1,160.1 L721.7,159.2 L720.5,158.5 L719.5,158.0 Z" fill="#c94a36"/>
  <path d="M727.3,164.0 L728.3,165.2 L729.7,167.0 L731.3,169.0 L733.0,171.1 L734.4,172.8 L735.3,174.1 L736.1,173.5 L735.3,172.2 L734.1,170.3 L732.7,168.1 L731.3,165.8 L730.1,163.9 L729.3,162.6 Z" fill="#c94a36"/>
  <path d="M724.5,135.6 L724.0,135.1 L723.2,134.4 L722.4,133.7 L721.5,132.9 L720.7,132.2 L720.2,131.8 L719.8,132.2 L720.3,132.7 L720.9,133.5 L721.7,134.3 L722.5,135.2 L723.2,135.9 L723.7,136.4 Z" fill="#c94a36"/>
  <path d="M740.3,153.4 L740.8,153.1 L741.5,152.5 L742.3,151.8 L743.0,151.2 L743.7,150.6 L744.2,150.2 L743.8,149.8 L743.3,150.1 L742.6,150.6 L741.7,151.2 L740.9,151.7 L740.2,152.2 L739.7,152.6 Z" fill="#c94a36"/>
  </g>
  <rect x="672.4" y="183" width="7" height="22" fill="#2f78bc" stroke="none"/>
  <rect x="683.6" y="192" width="6" height="15" fill="#a83a30" stroke="none"/>
  <path d="M667.4,141.8 C670,142 672,143 673.9,144 C677,146 679,148 680.4,150.5 L681.2,138.9 C683,136 685,134 687,133 L688.4,129.4 C690,129 691,131 691.3,133 C692,131 694,129 695.7,128.7 C697,130 698,131 698.6,133 C700,135 701,137 701.5,138.9 C703,139 705,140 705.9,141.8 C706,144 705,146 704.4,147.6 C703,149 702,150 701.5,150.5 C703,153 705,155 705.9,157.8 C707,161 707.5,164 707.3,168 C707.5,172 707,177 706.6,181 C705.5,185 704.5,189 703,192.7 C701,195 698,197 695.7,198.5 C692,199 688,198 684,195.6 C680,193 677,190 673.9,186.9 C671,184 669,182 668.1,179.6 C665,176 663,172 662.3,168 C661,164 660.5,160 660.8,156.3 C661,152 662,149 663.7,146.2 C665,144 666,142.5 667.4,141.8 Z" fill="#e8744e" stroke="none"/>
  <!-- left atrium texture -->
  <path d="M663,150 C667,145 674,146 679,152 C680,160 677,168 672,174 C667,176 663,170 662,163 C661,158 661,154 663,150 Z" fill="#f09c7e" stroke="none"/>
  <!-- aorta -->
  <path d="M683,154 L682,140 C684,136 687,134 690,134 C694,133 697,134 700,137" stroke="#c43a2c" stroke-width="6"/>
  <path d="M688.4,134 L688.4,130 M695.7,133 L695.7,129.5" stroke="#c43a2c" stroke-width="2.6"/>
  <!-- pulmonary trunk -->
  <path d="M686,157 C692,151 698,146 704,142.5" stroke="#ee8a68" stroke-width="7"/>
  <path d="M688,152 C693,148 698,145 702,143" stroke="#f6b092" stroke-width="2"/>
  <!-- ventricle -->
  <path d="M670,177 C680,170 694,165 706,163 C707,172 707,182 704,190 C700,196 696,198 692,197 C684,195 678,190 672,183 Z" fill="#e8784e" stroke="none"/>
  <path d="M690,180 C696,176 702,172 705.5,170 C706,178 705,186 702,192 C698,196 694,197 690,196 C686,192 686,186 690,180 Z" fill="#f0a840" stroke="none"/>
  <path d="M676,175 C684,171 692,170 698,171 C696,178 692,184 686,187 C680,186 676,182 676,175 Z" fill="#ee9070" stroke="none"/>
  <g stroke="#d8503a" stroke-width="0.8"><path d="M692,184 C696,186 700,188 702,192 M694,178 C698,180 702,178 705,176 M690,190 C694,192 696,194 698,196"/></g>
  <g stroke="#f2b03c" stroke-width="1.6">
    <path d="M668,176 C678,170 692,165 706,163"/>
    <path d="M673,186 C680,193 688,197 696,198"/>
    <path d="M700,194 C704,188 706,180 706,172"/>
  </g>
  <g stroke="#f2b03c" stroke-width="0.9">
    <path d="M682,178 C688,182 694,186 698,192"/>
    <path d="M690,173 C694,178 698,184 702,186"/>
  </g>
  <path d="M669,178 C676,170 680,160 680,150" stroke="#c84a38" stroke-width="1"/>
  <g stroke="#fbd0b8" stroke-width="1" opacity="0.7">
    <path d="M665,157 L668,155 M670,163 L673,160 M666,167 L669,165 M674,152 L677,150"/>
  </g>
</g>

<!-- ===== ELBOW ===== -->
<g id="elbow">
  <defs>
    <filter id="soft" x="-10%" y="-10%" width="120%" height="120%"><feGaussianBlur stdDeviation="0.55"/></filter>
    <linearGradient id="armfade" gradientUnits="userSpaceOnUse" x1="617" y1="238" x2="630" y2="248">
      <stop offset="0" stop-color="#000" stop-opacity="1"/><stop offset="1" stop-color="#000" stop-opacity="0"/>
    </linearGradient>
    <linearGradient id="forefade" gradientUnits="userSpaceOnUse" x1="765" y1="257" x2="745" y2="265">
      <stop offset="0" stop-color="#000" stop-opacity="1"/><stop offset="1" stop-color="#000" stop-opacity="0"/>
    </linearGradient>
    <mask id="elbowmask" maskUnits="userSpaceOnUse" x="600" y="220" width="165" height="100">
      <rect x="600" y="220" width="165" height="100" fill="#fff"/>
      <rect x="600" y="220" width="165" height="100" fill="url(#armfade)"/>
      <rect x="600" y="220" width="165" height="100" fill="url(#forefade)"/>
    </mask>
  </defs>
  <g mask="url(#elbowmask)">
  <g filter="url(#soft)" stroke-linecap="round" fill="none">
    <!-- forearm skin -->
    <path d="M686,273.5 C700,267 715,259 730,253 C740,250 750,249 760,251 L762,268 C750,276 735,286 723.4,293.4 C710,299 695,304 677.5,307 Z" fill="#f1ae7a"/>
    <!-- upper arm skin -->
    <path d="M640,252 L686,286" stroke="#f3b68c" stroke-width="30" stroke-linecap="butt"/>
    <path d="M632,240 L642,248" stroke="#f3b68c" stroke-width="22" stroke-linecap="round"/>
    <!-- muscles -->
    <path d="M630.0,236.0 C636.0,250.6 668.4,275.2 684.0,277.0 C678.0,262.4 645.6,237.8 630.0,236.0 Z" fill="#d8423e" stroke="none"/>
    <path d="M636.0,242.0 C642.4,250.1 666.4,268.1 676.0,272.0 C669.6,263.9 645.6,245.9 636.0,242.0 Z" fill="#ec7a74" stroke="none"/>
    <path d="M619.0,249.0 C624.9,263.5 656.1,292.3 671.0,297.0 C665.1,282.5 633.9,253.7 619.0,249.0 Z" fill="#d63c3c" stroke="none"/>
    <!-- humerus -->
    <path d="M624,243.6 L683,287" stroke="#dacdab" stroke-width="9.5"/>
    <path d="M625,241.5 L682,284" stroke="#f2ecda" stroke-width="2.5"/>
    <path d="M624,247 L678,288" stroke="#c6b48c" stroke-width="1.4"/>
    <!-- forearm bones -->
    <path d="M689,280 C710,272 735,264 760,259" stroke="#dccfae" stroke-width="6.5"/>
    <path d="M690,278.5 C712,270 735,262 758,257" stroke="#f4ecda" stroke-width="1.8"/>
    <path d="M695,290 C715,283 738,273 760,267" stroke="#cfc096" stroke-width="7"/>
    <path d="M697,287 C716,280 738,271 758,265" stroke="#e6dcc0" stroke-width="1.5"/>
    <!-- elbow knob -->
    <ellipse cx="684.5" cy="286" rx="7" ry="8" fill="#e0d4b4"/>
    <path d="M675,292 C678,299 684,303 690,300" stroke="#6e4a2e" stroke-width="3"/>
    <path d="M675,289 C680,295 686,296 691,293" stroke="#ffffff" stroke-width="1.8"/>
  </g>
  </g>
</g>

<!-- ===== INTESTINES ===== -->
<g id="intestines">
<path d="M648,350 C660,346 672,352 688,360 C702,362 714,352 724,342 L722,402 C718,414 706,421 692,421 C676,421 660,421 650,412 Z" fill="#eba4a2"/>
<path d="M679,416 C677,428 679,442 686,455 C690,452 694,440 694,428 C694,424 692,420 690,416 Z" fill="#e78a8a"/>
<circle cx="679.5" cy="424" r="3.2" fill="#e78a8a"/>
<circle cx="692.5" cy="426" r="3.2" fill="#e78a8a"/>
<circle cx="681" cy="436" r="3.2" fill="#e78a8a"/>
<circle cx="692" cy="437" r="3.2" fill="#e78a8a"/>
<circle cx="684" cy="446" r="3.2" fill="#e78a8a"/>
<circle cx="690" cy="447" r="3.2" fill="#e78a8a"/>
<path d="M680,430 L693,430 M681,440 L692,441 M684,449 L690,450" stroke="#d06c6e" stroke-width="0.7" fill="none"/>
<path d="M651.0,421.0 L650.3,420.1 L649.2,419.0 L648.0,417.7 L646.6,416.2 L645.3,414.5 L644.0,412.6 L642.9,410.4 L642.0,408.0 L641.4,405.2 L640.9,402.0 L640.6,398.4 L640.4,394.7 L640.2,390.9 L640.1,387.1 L640.1,383.4 L640.0,380.0 L640.0,376.7 L639.9,373.4 L640.0,370.1 L640.1,366.9 L640.2,363.8 L640.4,360.9 L640.7,358.3 L641.0,356.0 L641.5,354.0 L642.1,352.3 L642.8,350.8 L643.6,349.5 L644.3,348.4 L645.0,347.5 L645.6,346.7 L646.0,346.0" fill="none" stroke="#e78a8a" stroke-width="20" stroke-linecap="round" stroke-linejoin="round"/>
<circle cx="653.6" cy="410.5" r="4.2" fill="#e78a8a"/>
<circle cx="640.3" cy="422.6" r="4.2" fill="#e78a8a"/>
<circle cx="651.5" cy="407.6" r="4.2" fill="#e78a8a"/>
<circle cx="635.5" cy="415.8" r="4.2" fill="#e78a8a"/>
<circle cx="650.4" cy="404.1" r="4.2" fill="#e78a8a"/>
<circle cx="632.8" cy="407.9" r="4.2" fill="#e78a8a"/>
<circle cx="649.7" cy="399.3" r="4.2" fill="#e78a8a"/>
<circle cx="631.8" cy="400.9" r="4.2" fill="#e78a8a"/>
<circle cx="649.3" cy="393.8" r="4.2" fill="#e78a8a"/>
<circle cx="631.4" cy="394.5" r="4.2" fill="#e78a8a"/>
<circle cx="649.1" cy="387.9" r="4.2" fill="#e78a8a"/>
<circle cx="631.2" cy="388.4" r="4.2" fill="#e78a8a"/>
<circle cx="649.0" cy="382.0" r="4.2" fill="#e78a8a"/>
<circle cx="631.0" cy="382.3" r="4.2" fill="#e78a8a"/>
<circle cx="649.0" cy="376.1" r="4.2" fill="#e78a8a"/>
<circle cx="631.0" cy="376.1" r="4.2" fill="#e78a8a"/>
<circle cx="649.0" cy="370.2" r="4.2" fill="#e78a8a"/>
<circle cx="631.0" cy="370.0" r="4.2" fill="#e78a8a"/>
<circle cx="649.2" cy="364.5" r="4.2" fill="#e78a8a"/>
<circle cx="631.2" cy="363.7" r="4.2" fill="#e78a8a"/>
<circle cx="649.6" cy="359.4" r="4.2" fill="#e78a8a"/>
<circle cx="631.8" cy="356.8" r="4.2" fill="#e78a8a"/>
<circle cx="650.5" cy="355.4" r="4.2" fill="#e78a8a"/>
<circle cx="633.6" cy="349.3" r="4.2" fill="#e78a8a"/>
<path d="M658.3,415.0 L643.7,427.0" stroke="#d97c7e" stroke-width="0.55" fill="none" opacity="0.8"/>
<ellipse cx="652.8" cy="415.6" rx="2" ry="1.8" fill="#f0aaa8" opacity="0.8"/>
<ellipse cx="645.1" cy="421.9" rx="2" ry="1.8" fill="#f0aaa8" opacity="0.8"/>
<path d="M654.0,410.2 L639.9,423.0" stroke="#d97c7e" stroke-width="0.55" fill="none" opacity="0.8"/>
<ellipse cx="648.9" cy="410.8" rx="2" ry="1.8" fill="#f0aaa8" opacity="0.8"/>
<ellipse cx="641.6" cy="417.5" rx="2" ry="1.8" fill="#f0aaa8" opacity="0.8"/>
<path d="M652.0,407.4 L635.0,416.0" stroke="#d97c7e" stroke-width="0.55" fill="none" opacity="0.8"/>
<ellipse cx="646.9" cy="406.6" rx="2" ry="1.8" fill="#f0aaa8" opacity="0.8"/>
<ellipse cx="638.1" cy="411.1" rx="2" ry="1.8" fill="#f0aaa8" opacity="0.8"/>
<path d="M650.9,404.0 L632.3,408.0" stroke="#d97c7e" stroke-width="0.55" fill="none" opacity="0.8"/>
<ellipse cx="646.0" cy="402.0" rx="2" ry="1.8" fill="#f0aaa8" opacity="0.8"/>
<ellipse cx="636.3" cy="404.1" rx="2" ry="1.8" fill="#f0aaa8" opacity="0.8"/>
<path d="M650.2,399.2 L631.3,401.0" stroke="#d97c7e" stroke-width="0.55" fill="none" opacity="0.8"/>
<ellipse cx="645.5" cy="396.6" rx="2" ry="1.8" fill="#f0aaa8" opacity="0.8"/>
<ellipse cx="635.6" cy="397.6" rx="2" ry="1.8" fill="#f0aaa8" opacity="0.8"/>
<path d="M649.8,393.7 L630.9,394.5" stroke="#d97c7e" stroke-width="0.55" fill="none" opacity="0.8"/>
<ellipse cx="645.2" cy="390.9" rx="2" ry="1.8" fill="#f0aaa8" opacity="0.8"/>
<ellipse cx="635.3" cy="391.3" rx="2" ry="1.8" fill="#f0aaa8" opacity="0.8"/>
<path d="M649.6,387.9 L630.7,388.4" stroke="#d97c7e" stroke-width="0.55" fill="none" opacity="0.8"/>
<ellipse cx="645.0" cy="385.0" rx="2" ry="1.8" fill="#f0aaa8" opacity="0.8"/>
<ellipse cx="635.1" cy="385.2" rx="2" ry="1.8" fill="#f0aaa8" opacity="0.8"/>
<path d="M649.5,382.0 L630.5,382.3" stroke="#d97c7e" stroke-width="0.55" fill="none" opacity="0.8"/>
<ellipse cx="644.9" cy="379.0" rx="2" ry="1.8" fill="#f0aaa8" opacity="0.8"/>
<ellipse cx="635.0" cy="379.2" rx="2" ry="1.8" fill="#f0aaa8" opacity="0.8"/>
<path d="M649.5,376.1 L630.5,376.1" stroke="#d97c7e" stroke-width="0.55" fill="none" opacity="0.8"/>
<ellipse cx="644.9" cy="373.1" rx="2" ry="1.8" fill="#f0aaa8" opacity="0.8"/>
<ellipse cx="635.0" cy="373.1" rx="2" ry="1.8" fill="#f0aaa8" opacity="0.8"/>
<path d="M649.5,370.2 L630.5,370.0" stroke="#d97c7e" stroke-width="0.55" fill="none" opacity="0.8"/>
<ellipse cx="645.0" cy="367.2" rx="2" ry="1.8" fill="#f0aaa8" opacity="0.8"/>
<ellipse cx="635.1" cy="367.1" rx="2" ry="1.8" fill="#f0aaa8" opacity="0.8"/>
<path d="M649.7,364.5 L630.7,363.7" stroke="#d97c7e" stroke-width="0.55" fill="none" opacity="0.8"/>
<ellipse cx="645.4" cy="361.4" rx="2" ry="1.8" fill="#f0aaa8" opacity="0.8"/>
<ellipse cx="635.5" cy="360.9" rx="2" ry="1.8" fill="#f0aaa8" opacity="0.8"/>
<path d="M650.1,359.5 L631.3,356.8" stroke="#d97c7e" stroke-width="0.55" fill="none" opacity="0.8"/>
<ellipse cx="646.3" cy="356.0" rx="2" ry="1.8" fill="#f0aaa8" opacity="0.8"/>
<ellipse cx="636.5" cy="354.5" rx="2" ry="1.8" fill="#f0aaa8" opacity="0.8"/>
<path d="M651.0,355.5 L633.1,349.1" stroke="#d97c7e" stroke-width="0.55" fill="none" opacity="0.8"/>
<ellipse cx="648.3" cy="351.4" rx="2" ry="1.8" fill="#f0aaa8" opacity="0.8"/>
<ellipse cx="639.0" cy="348.1" rx="2" ry="1.8" fill="#f0aaa8" opacity="0.8"/>
<path d="M644.0,346.0 L644.9,345.5 L646.1,344.8 L647.4,343.9 L649.0,342.9 L650.7,342.1 L652.4,341.4 L654.2,341.0 L656.0,341.0 L657.8,341.5 L659.7,342.3 L661.6,343.3 L663.6,344.6 L665.7,346.0 L667.8,347.4 L669.9,348.8 L672.0,350.0 L674.2,351.2 L676.4,352.5 L678.7,353.9 L681.1,355.2 L683.4,356.4 L685.7,357.5 L687.9,358.4 L690.0,359.0 L692.0,359.3 L694.0,359.5 L695.9,359.4 L697.8,359.2 L699.7,358.8 L701.5,358.3 L703.2,357.7 L705.0,357.0 L706.7,356.2 L708.5,355.2 L710.2,354.0 L711.8,352.8 L713.4,351.4 L715.0,350.0 L716.5,348.5 L718.0,347.0 L719.5,345.3 L720.9,343.5 L722.4,341.4 L723.8,339.4 L725.1,337.4 L726.3,335.6 L727.2,334.1 L728.0,333.0" fill="none" stroke="#e78a8a" stroke-width="13" stroke-linecap="round" stroke-linejoin="round"/>
<circle cx="651.9" cy="348.2" r="3.6" fill="#e78a8a"/>
<circle cx="646.4" cy="337.5" r="3.6" fill="#e78a8a"/>
<circle cx="654.7" cy="347.0" r="3.6" fill="#e78a8a"/>
<circle cx="654.8" cy="335.0" r="3.6" fill="#e78a8a"/>
<circle cx="657.5" cy="347.9" r="3.6" fill="#e78a8a"/>
<circle cx="663.3" cy="337.4" r="3.6" fill="#e78a8a"/>
<circle cx="662.1" cy="350.9" r="3.6" fill="#e78a8a"/>
<circle cx="668.8" cy="340.9" r="3.6" fill="#e78a8a"/>
<circle cx="667.5" cy="354.4" r="3.6" fill="#e78a8a"/>
<circle cx="673.5" cy="343.9" r="3.6" fill="#e78a8a"/>
<circle cx="672.7" cy="357.3" r="3.6" fill="#e78a8a"/>
<circle cx="678.7" cy="346.9" r="3.6" fill="#e78a8a"/>
<circle cx="678.0" cy="360.3" r="3.6" fill="#e78a8a"/>
<circle cx="683.9" cy="349.9" r="3.6" fill="#e78a8a"/>
<circle cx="684.1" cy="363.4" r="3.6" fill="#e78a8a"/>
<circle cx="688.5" cy="352.2" r="3.6" fill="#e78a8a"/>
<circle cx="691.7" cy="365.3" r="3.6" fill="#e78a8a"/>
<circle cx="692.5" cy="353.3" r="3.6" fill="#e78a8a"/>
<circle cx="699.2" cy="365.0" r="3.6" fill="#e78a8a"/>
<circle cx="696.9" cy="353.3" r="3.6" fill="#e78a8a"/>
<circle cx="706.0" cy="363.0" r="3.6" fill="#e78a8a"/>
<circle cx="701.6" cy="351.9" r="3.6" fill="#e78a8a"/>
<circle cx="712.5" cy="359.7" r="3.6" fill="#e78a8a"/>
<circle cx="705.8" cy="349.7" r="3.6" fill="#e78a8a"/>
<circle cx="717.9" cy="355.5" r="3.6" fill="#e78a8a"/>
<circle cx="709.8" cy="346.6" r="3.6" fill="#e78a8a"/>
<circle cx="722.6" cy="350.8" r="3.6" fill="#e78a8a"/>
<circle cx="713.6" cy="342.9" r="3.6" fill="#e78a8a"/>
<circle cx="726.7" cy="345.7" r="3.6" fill="#e78a8a"/>
<circle cx="717.0" cy="338.6" r="3.6" fill="#e78a8a"/>
<path d="M647.1,351.7 L640.9,340.3" stroke="#d97c7e" stroke-width="0.55" fill="none" opacity="0.8"/>
<ellipse cx="648.1" cy="347.3" rx="2" ry="1.8" fill="#f0aaa8" opacity="0.8"/>
<ellipse cx="645.0" cy="341.5" rx="2" ry="1.8" fill="#f0aaa8" opacity="0.8"/>
<path d="M652.1,348.7 L646.1,337.1" stroke="#d97c7e" stroke-width="0.55" fill="none" opacity="0.8"/>
<ellipse cx="653.5" cy="344.9" rx="2" ry="1.8" fill="#f0aaa8" opacity="0.8"/>
<ellipse cx="650.4" cy="339.0" rx="2" ry="1.8" fill="#f0aaa8" opacity="0.8"/>
<path d="M654.7,347.5 L654.8,334.5" stroke="#d97c7e" stroke-width="0.55" fill="none" opacity="0.8"/>
<ellipse cx="657.6" cy="345.1" rx="2" ry="1.8" fill="#f0aaa8" opacity="0.8"/>
<ellipse cx="657.6" cy="338.5" rx="2" ry="1.8" fill="#f0aaa8" opacity="0.8"/>
<path d="M657.3,348.4 L663.6,337.0" stroke="#d97c7e" stroke-width="0.55" fill="none" opacity="0.8"/>
<ellipse cx="661.3" cy="347.2" rx="2" ry="1.8" fill="#f0aaa8" opacity="0.8"/>
<ellipse cx="664.6" cy="341.4" rx="2" ry="1.8" fill="#f0aaa8" opacity="0.8"/>
<path d="M661.9,351.3 L669.1,340.5" stroke="#d97c7e" stroke-width="0.55" fill="none" opacity="0.8"/>
<ellipse cx="666.2" cy="350.3" rx="2" ry="1.8" fill="#f0aaa8" opacity="0.8"/>
<ellipse cx="669.9" cy="344.8" rx="2" ry="1.8" fill="#f0aaa8" opacity="0.8"/>
<path d="M667.3,354.8 L673.8,343.5" stroke="#d97c7e" stroke-width="0.55" fill="none" opacity="0.8"/>
<ellipse cx="671.5" cy="353.5" rx="2" ry="1.8" fill="#f0aaa8" opacity="0.8"/>
<ellipse cx="674.8" cy="347.8" rx="2" ry="1.8" fill="#f0aaa8" opacity="0.8"/>
<path d="M672.5,357.7 L679.0,346.5" stroke="#d97c7e" stroke-width="0.55" fill="none" opacity="0.8"/>
<ellipse cx="676.7" cy="356.5" rx="2" ry="1.8" fill="#f0aaa8" opacity="0.8"/>
<ellipse cx="680.0" cy="350.8" rx="2" ry="1.8" fill="#f0aaa8" opacity="0.8"/>
<path d="M677.7,360.8 L684.2,349.5" stroke="#d97c7e" stroke-width="0.55" fill="none" opacity="0.8"/>
<ellipse cx="682.0" cy="359.3" rx="2" ry="1.8" fill="#f0aaa8" opacity="0.8"/>
<ellipse cx="685.3" cy="353.6" rx="2" ry="1.8" fill="#f0aaa8" opacity="0.8"/>
<path d="M683.9,363.8 L688.7,351.7" stroke="#d97c7e" stroke-width="0.55" fill="none" opacity="0.8"/>
<ellipse cx="688.0" cy="361.6" rx="2" ry="1.8" fill="#f0aaa8" opacity="0.8"/>
<ellipse cx="690.4" cy="355.5" rx="2" ry="1.8" fill="#f0aaa8" opacity="0.8"/>
<path d="M691.6,365.8 L692.5,352.8" stroke="#d97c7e" stroke-width="0.55" fill="none" opacity="0.8"/>
<ellipse cx="694.8" cy="362.5" rx="2" ry="1.8" fill="#f0aaa8" opacity="0.8"/>
<ellipse cx="695.3" cy="355.9" rx="2" ry="1.8" fill="#f0aaa8" opacity="0.8"/>
<path d="M699.3,365.5 L696.8,352.8" stroke="#d97c7e" stroke-width="0.55" fill="none" opacity="0.8"/>
<ellipse cx="701.6" cy="361.5" rx="2" ry="1.8" fill="#f0aaa8" opacity="0.8"/>
<ellipse cx="700.3" cy="355.1" rx="2" ry="1.8" fill="#f0aaa8" opacity="0.8"/>
<path d="M706.2,363.5 L701.4,351.5" stroke="#d97c7e" stroke-width="0.55" fill="none" opacity="0.8"/>
<ellipse cx="707.7" cy="359.2" rx="2" ry="1.8" fill="#f0aaa8" opacity="0.8"/>
<ellipse cx="705.2" cy="353.0" rx="2" ry="1.8" fill="#f0aaa8" opacity="0.8"/>
<path d="M712.8,360.1 L705.5,349.3" stroke="#d97c7e" stroke-width="0.55" fill="none" opacity="0.8"/>
<ellipse cx="713.3" cy="355.6" rx="2" ry="1.8" fill="#f0aaa8" opacity="0.8"/>
<ellipse cx="709.6" cy="350.1" rx="2" ry="1.8" fill="#f0aaa8" opacity="0.8"/>
<path d="M718.2,355.8 L709.5,346.2" stroke="#d97c7e" stroke-width="0.55" fill="none" opacity="0.8"/>
<ellipse cx="718.2" cy="351.4" rx="2" ry="1.8" fill="#f0aaa8" opacity="0.8"/>
<ellipse cx="713.8" cy="346.5" rx="2" ry="1.8" fill="#f0aaa8" opacity="0.8"/>
<path d="M723.0,351.1 L713.3,342.5" stroke="#d97c7e" stroke-width="0.55" fill="none" opacity="0.8"/>
<ellipse cx="722.5" cy="346.7" rx="2" ry="1.8" fill="#f0aaa8" opacity="0.8"/>
<ellipse cx="717.5" cy="342.3" rx="2" ry="1.8" fill="#f0aaa8" opacity="0.8"/>
<path d="M727.1,346.0 L716.6,338.4" stroke="#d97c7e" stroke-width="0.55" fill="none" opacity="0.8"/>
<ellipse cx="726.2" cy="341.6" rx="2" ry="1.8" fill="#f0aaa8" opacity="0.8"/>
<ellipse cx="720.9" cy="337.7" rx="2" ry="1.8" fill="#f0aaa8" opacity="0.8"/>
<path d="M729.0,336.0 L729.1,337.6 L729.3,339.8 L729.5,342.3 L729.7,345.1 L729.9,348.2 L730.2,351.4 L730.4,354.7 L730.5,358.0 L730.6,361.4 L730.8,365.2 L731.0,369.2 L731.1,373.2 L731.2,377.3 L731.2,381.2 L731.2,384.8 L731.0,388.0 L730.8,390.9 L730.5,393.5 L730.2,395.9 L729.8,398.1 L729.4,400.2 L728.7,402.2 L728.0,404.1 L727.0,406.0 L725.8,407.8 L724.4,409.6 L722.9,411.3 L721.2,412.9 L719.4,414.3 L717.6,415.7 L715.8,416.9 L714.0,418.0 L712.1,418.9 L710.0,419.7 L707.9,420.3 L705.7,420.8 L703.6,421.1 L701.7,421.5 L700.2,421.7 L699.0,422.0" fill="none" stroke="#e78a8a" stroke-width="19" stroke-linecap="round" stroke-linejoin="round"/>
<circle cx="721.0" cy="342.7" r="4.0" fill="#e78a8a"/>
<circle cx="737.9" cy="341.3" r="4.0" fill="#e78a8a"/>
<circle cx="721.5" cy="348.6" r="4.0" fill="#e78a8a"/>
<circle cx="738.4" cy="347.3" r="4.0" fill="#e78a8a"/>
<circle cx="721.8" cy="354.4" r="4.0" fill="#e78a8a"/>
<circle cx="738.8" cy="353.5" r="4.0" fill="#e78a8a"/>
<circle cx="722.1" cy="360.3" r="4.0" fill="#e78a8a"/>
<circle cx="739.1" cy="359.6" r="4.0" fill="#e78a8a"/>
<circle cx="722.3" cy="366.3" r="4.0" fill="#e78a8a"/>
<circle cx="739.3" cy="365.6" r="4.0" fill="#e78a8a"/>
<circle cx="722.6" cy="372.2" r="4.0" fill="#e78a8a"/>
<circle cx="739.5" cy="371.7" r="4.0" fill="#e78a8a"/>
<circle cx="722.7" cy="378.0" r="4.0" fill="#e78a8a"/>
<circle cx="739.7" cy="377.9" r="4.0" fill="#e78a8a"/>
<circle cx="722.7" cy="383.8" r="4.0" fill="#e78a8a"/>
<circle cx="739.7" cy="384.1" r="4.0" fill="#e78a8a"/>
<circle cx="722.4" cy="389.3" r="4.0" fill="#e78a8a"/>
<circle cx="739.3" cy="390.6" r="4.0" fill="#e78a8a"/>
<circle cx="721.8" cy="394.8" r="4.0" fill="#e78a8a"/>
<circle cx="738.7" cy="396.9" r="4.0" fill="#e78a8a"/>
<circle cx="720.8" cy="399.2" r="4.0" fill="#e78a8a"/>
<circle cx="737.0" cy="404.3" r="4.0" fill="#e78a8a"/>
<circle cx="719.1" cy="402.5" r="4.0" fill="#e78a8a"/>
<circle cx="733.4" cy="411.7" r="4.0" fill="#e78a8a"/>
<circle cx="716.6" cy="405.5" r="4.0" fill="#e78a8a"/>
<circle cx="728.3" cy="417.9" r="4.0" fill="#e78a8a"/>
<circle cx="712.7" cy="408.7" r="4.0" fill="#e78a8a"/>
<circle cx="722.9" cy="422.3" r="4.0" fill="#e78a8a"/>
<circle cx="709.0" cy="411.0" r="4.0" fill="#e78a8a"/>
<circle cx="716.4" cy="426.3" r="4.0" fill="#e78a8a"/>
<circle cx="705.1" cy="412.2" r="4.0" fill="#e78a8a"/>
<circle cx="708.9" cy="428.7" r="4.0" fill="#e78a8a"/>
<path d="M720.0,336.7 L738.0,335.3" stroke="#d97c7e" stroke-width="0.55" fill="none" opacity="0.8"/>
<ellipse cx="724.6" cy="339.3" rx="2" ry="1.8" fill="#f0aaa8" opacity="0.8"/>
<ellipse cx="733.9" cy="338.6" rx="2" ry="1.8" fill="#f0aaa8" opacity="0.8"/>
<path d="M720.5,342.7 L738.4,341.3" stroke="#d97c7e" stroke-width="0.55" fill="none" opacity="0.8"/>
<ellipse cx="725.0" cy="345.3" rx="2" ry="1.8" fill="#f0aaa8" opacity="0.8"/>
<ellipse cx="734.4" cy="344.6" rx="2" ry="1.8" fill="#f0aaa8" opacity="0.8"/>
<path d="M721.0,348.6 L738.9,347.3" stroke="#d97c7e" stroke-width="0.55" fill="none" opacity="0.8"/>
<ellipse cx="725.5" cy="351.3" rx="2" ry="1.8" fill="#f0aaa8" opacity="0.8"/>
<ellipse cx="734.8" cy="350.6" rx="2" ry="1.8" fill="#f0aaa8" opacity="0.8"/>
<path d="M721.3,354.5 L739.3,353.4" stroke="#d97c7e" stroke-width="0.55" fill="none" opacity="0.8"/>
<ellipse cx="725.8" cy="357.2" rx="2" ry="1.8" fill="#f0aaa8" opacity="0.8"/>
<ellipse cx="735.1" cy="356.7" rx="2" ry="1.8" fill="#f0aaa8" opacity="0.8"/>
<path d="M721.6,360.3 L739.6,359.6" stroke="#d97c7e" stroke-width="0.55" fill="none" opacity="0.8"/>
<ellipse cx="726.0" cy="363.1" rx="2" ry="1.8" fill="#f0aaa8" opacity="0.8"/>
<ellipse cx="735.4" cy="362.8" rx="2" ry="1.8" fill="#f0aaa8" opacity="0.8"/>
<path d="M721.8,366.3 L739.8,365.6" stroke="#d97c7e" stroke-width="0.55" fill="none" opacity="0.8"/>
<ellipse cx="726.3" cy="369.1" rx="2" ry="1.8" fill="#f0aaa8" opacity="0.8"/>
<ellipse cx="735.6" cy="368.8" rx="2" ry="1.8" fill="#f0aaa8" opacity="0.8"/>
<path d="M722.1,372.2 L740.0,371.6" stroke="#d97c7e" stroke-width="0.55" fill="none" opacity="0.8"/>
<ellipse cx="726.4" cy="375.1" rx="2" ry="1.8" fill="#f0aaa8" opacity="0.8"/>
<ellipse cx="735.8" cy="374.8" rx="2" ry="1.8" fill="#f0aaa8" opacity="0.8"/>
<path d="M722.2,378.0 L740.2,377.9" stroke="#d97c7e" stroke-width="0.55" fill="none" opacity="0.8"/>
<ellipse cx="726.5" cy="381.0" rx="2" ry="1.8" fill="#f0aaa8" opacity="0.8"/>
<ellipse cx="735.9" cy="380.9" rx="2" ry="1.8" fill="#f0aaa8" opacity="0.8"/>
<path d="M722.2,383.8 L740.2,384.1" stroke="#d97c7e" stroke-width="0.55" fill="none" opacity="0.8"/>
<ellipse cx="726.3" cy="386.9" rx="2" ry="1.8" fill="#f0aaa8" opacity="0.8"/>
<ellipse cx="735.7" cy="387.0" rx="2" ry="1.8" fill="#f0aaa8" opacity="0.8"/>
<path d="M721.9,389.2 L739.8,390.6" stroke="#d97c7e" stroke-width="0.55" fill="none" opacity="0.8"/>
<ellipse cx="725.9" cy="392.5" rx="2" ry="1.8" fill="#f0aaa8" opacity="0.8"/>
<ellipse cx="735.2" cy="393.3" rx="2" ry="1.8" fill="#f0aaa8" opacity="0.8"/>
<path d="M721.3,394.8 L739.2,397.0" stroke="#d97c7e" stroke-width="0.55" fill="none" opacity="0.8"/>
<ellipse cx="724.9" cy="398.2" rx="2" ry="1.8" fill="#f0aaa8" opacity="0.8"/>
<ellipse cx="734.2" cy="399.4" rx="2" ry="1.8" fill="#f0aaa8" opacity="0.8"/>
<path d="M720.3,399.1 L737.5,404.4" stroke="#d97c7e" stroke-width="0.55" fill="none" opacity="0.8"/>
<ellipse cx="723.1" cy="403.0" rx="2" ry="1.8" fill="#f0aaa8" opacity="0.8"/>
<ellipse cx="732.0" cy="405.8" rx="2" ry="1.8" fill="#f0aaa8" opacity="0.8"/>
<path d="M718.7,402.3 L733.9,412.0" stroke="#d97c7e" stroke-width="0.55" fill="none" opacity="0.8"/>
<ellipse cx="720.4" cy="406.9" rx="2" ry="1.8" fill="#f0aaa8" opacity="0.8"/>
<ellipse cx="728.3" cy="411.9" rx="2" ry="1.8" fill="#f0aaa8" opacity="0.8"/>
<path d="M716.3,405.1 L728.6,418.3" stroke="#d97c7e" stroke-width="0.55" fill="none" opacity="0.8"/>
<ellipse cx="716.9" cy="410.2" rx="2" ry="1.8" fill="#f0aaa8" opacity="0.8"/>
<ellipse cx="723.3" cy="417.0" rx="2" ry="1.8" fill="#f0aaa8" opacity="0.8"/>
<path d="M712.4,408.3 L723.2,422.7" stroke="#d97c7e" stroke-width="0.55" fill="none" opacity="0.8"/>
<ellipse cx="712.5" cy="413.3" rx="2" ry="1.8" fill="#f0aaa8" opacity="0.8"/>
<ellipse cx="718.1" cy="420.8" rx="2" ry="1.8" fill="#f0aaa8" opacity="0.8"/>
<path d="M708.8,410.5 L716.6,426.7" stroke="#d97c7e" stroke-width="0.55" fill="none" opacity="0.8"/>
<ellipse cx="707.8" cy="415.3" rx="2" ry="1.8" fill="#f0aaa8" opacity="0.8"/>
<ellipse cx="711.9" cy="423.8" rx="2" ry="1.8" fill="#f0aaa8" opacity="0.8"/>
<path d="M705.0,411.7 L709.0,429.2" stroke="#d97c7e" stroke-width="0.55" fill="none" opacity="0.8"/>
<ellipse cx="703.0" cy="416.5" rx="2" ry="1.8" fill="#f0aaa8" opacity="0.8"/>
<ellipse cx="705.1" cy="425.6" rx="2" ry="1.8" fill="#f0aaa8" opacity="0.8"/>
<path d="M643,421 C641,408 642,380 643,356 C644,349 647,345 652,343" fill="none" stroke="#f6c8aa" stroke-width="1.5"/>
<path d="M652,345 C664,347 676,351 690,357 C704,356 716,346 724,336" fill="none" stroke="#f6c8aa" stroke-width="1.1"/>
<path d="M728,342 C729,365 729,390 725,405 C720,414 710,419 700,419" fill="none" stroke="#f6c8aa" stroke-width="1.5"/>
<path d="M651,421 C656,426 660,426 662,431" fill="none" stroke="#e08486" stroke-width="2"/>
<path d="M650,400 L722,400 L718,414 C712,420 700,424 690,424 L662,424 C656,422 652,418 650,412 Z" fill="#e89898"/>
<g fill="none" stroke-linecap="round" stroke-linejoin="round">
<g stroke="#d87a7c" stroke-width="7.6"><path d="M656,364 C660,360 666,362 668,366 C670,370 664,374 660,372"/><path d="M672,362 C678,360 684,364 686,368 C688,372 694,372 698,368 C702,364 708,364 712,368"/><path d="M654,378 C658,374 664,376 666,380 C668,384 662,388 658,386"/><path d="M670,376 C674,372 680,372 682,378 C684,384 678,390 682,394 C686,398 692,394 692,388"/><path d="M688,378 C692,374 698,376 698,382 C698,386 704,388 708,384 C712,380 716,378 718,382"/><path d="M700,394 C704,390 710,392 712,396 C714,400 718,402 720,400"/><path d="M656,392 C660,388 666,392 666,396 C666,402 660,404 658,408"/><path d="M668,404 C672,400 678,402 680,406 C682,410 688,412 692,408 C696,404 700,404 704,408"/><path d="M708,406 C712,404 716,406 718,410"/><path d="M654,414 C658,410 664,412 668,416 C672,418 676,416 680,418"/><path d="M684,414 C690,412 696,416 702,416 C708,416 712,412 716,414"/><path d="M714,372 C716,376 718,378 720,376"/></g>
<g stroke="#f6c6c4" stroke-width="6.2"><path d="M656,364 C660,360 666,362 668,366 C670,370 664,374 660,372"/><path d="M672,362 C678,360 684,364 686,368 C688,372 694,372 698,368 C702,364 708,364 712,368"/><path d="M654,378 C658,374 664,376 666,380 C668,384 662,388 658,386"/><path d="M670,376 C674,372 680,372 682,378 C684,384 678,390 682,394 C686,398 692,394 692,388"/><path d="M688,378 C692,374 698,376 698,382 C698,386 704,388 708,384 C712,380 716,378 718,382"/><path d="M700,394 C704,390 710,392 712,396 C714,400 718,402 720,400"/><path d="M656,392 C660,388 666,392 666,396 C666,402 660,404 658,408"/><path d="M668,404 C672,400 678,402 680,406 C682,410 688,412 692,408 C696,404 700,404 704,408"/><path d="M708,406 C712,404 716,406 718,410"/><path d="M654,414 C658,410 664,412 668,416 C672,418 676,416 680,418"/><path d="M684,414 C690,412 696,416 702,416 C708,416 712,412 716,414"/><path d="M714,372 C716,376 718,378 720,376"/></g>
<g stroke="#fde6e4" stroke-width="2.6" opacity="0.9"><path d="M656,364 C660,360 666,362 668,366 C670,370 664,374 660,372"/><path d="M672,362 C678,360 684,364 686,368 C688,372 694,372 698,368 C702,364 708,364 712,368"/><path d="M654,378 C658,374 664,376 666,380 C668,384 662,388 658,386"/><path d="M670,376 C674,372 680,372 682,378 C684,384 678,390 682,394 C686,398 692,394 692,388"/><path d="M688,378 C692,374 698,376 698,382 C698,386 704,388 708,384 C712,380 716,378 718,382"/><path d="M700,394 C704,390 710,392 712,396 C714,400 718,402 720,400"/><path d="M656,392 C660,388 666,392 666,396 C666,402 660,404 658,408"/><path d="M668,404 C672,400 678,402 680,406 C682,410 688,412 692,408 C696,404 700,404 704,408"/><path d="M708,406 C712,404 716,406 718,410"/><path d="M654,414 C658,410 664,412 668,416 C672,418 676,416 680,418"/><path d="M684,414 C690,412 696,416 702,416 C708,416 712,412 716,414"/><path d="M714,372 C716,376 718,378 720,376"/></g>
</g>
</g>

<!-- ===== LIVER ===== -->
<g id="liver" stroke-linecap="round" stroke-linejoin="round">
  <defs>
    <linearGradient id="lvg" gradientUnits="userSpaceOnUse" x1="640" y1="505" x2="650" y2="590">
      <stop offset="0" stop-color="#d46860"/><stop offset="0.45" stop-color="#c8504a"/><stop offset="1" stop-color="#b03a3a"/>
    </linearGradient>
  </defs>
  <path d="M673,495 L677,508" stroke="#3a8ed0" stroke-width="5.5" fill="none"/>
  <path d="M686,493.5 L686.9,508" stroke="#c8443c" stroke-width="5.5" fill="none"/>
  <path d="M620.4,592.9 C619,585 618.5,577 618.6,569.4 C619,560 620,550 622.2,542.2 C623,535 624,529 625.8,524.2 C627,519 629,516 631.3,513.3 C635,510 638,507.5 642.1,506.1 C647,504.5 652,503.5 656.6,503.4 C661,503.5 665,504.5 669.2,506.1 C671,508 672,509 673.6,509.6 C680,510 686,510 691.4,510.5 C697,511.5 703,513 709.1,514.9 C715,516.5 721,517.5 727,518.5 C732,519.5 737,521 741.2,522.9 C744,524.5 747,526 748.3,528.3 C747.5,530 746,531 744.7,531.8 C740,534 734,536 728.7,538 C724,540 719,541.5 714.5,543.4 C709,546 704,549 700.2,552.3 C696,555 692,557 687.8,559.4 C684,561 680,563 677.1,564.7 C670,568 662,571 655,575 C645,580 635,586 628,590 C625,592 622.5,593 620.4,592.9 Z" fill="url(#lvg)"/>
  <!-- right lobe darker lower part -->
  <path d="M670,534.5 C690,532 710,530 730,528 C738,527.5 744,528 748.3,528.3 C747.5,530 746,531 744.7,531.8 C740,534 734,536 728.7,538 C719,541.5 709,546 700.2,552.3 C692,557 684,561 677.1,564.7 C670,568 662,571 655,575 C648,570 652,556 670,534.5 Z" fill="#ae3440"/>
  <!-- left lower lobe darker -->
  <path d="M620,560 C632,556 650,550 669,542 C672,550 675,560 677,564.7 C668,569 660,572 652,576 C640,582 630,588 620.4,592.9 C619,582 618.5,570 620,560 Z" fill="#a83438"/>
  <!-- highlights -->
  <path d="M630,518 C638,510 650,506 662,507 C668,509 668,514 664,518 C654,522 642,526 632,530 C628,528 628,522 630,518 Z" fill="#de857c" opacity="0.6"/>
  <path d="M690,514 C705,516 722,519 738,523 C728,526 710,526 694,524 C688,521 686,516 690,514 Z" fill="#d86e66" opacity="0.6"/>
  <path d="M638.5,540.4 C655,537 675,533 691,531.4" fill="none" stroke="#a83a3a" stroke-width="1.2"/>
  <path d="M625.8,556.7 C640,552 655,546 669.2,542.2" fill="none" stroke="#983030" stroke-width="1"/>
  <!-- red vessel lower -->
  <path d="M686,563 L702,589.6" stroke="#c03a36" stroke-width="8" fill="none"/>
  <path d="M685,561 L699,585" stroke="#dc6a60" stroke-width="2" fill="none"/>
  <!-- gallbladder -->
  <path d="M638.5,551.3 C640,549.5 642,549 643.9,549.5 C647,551 649,554 651.2,556.7 C655,560 659,563 662,565.8 C662,567.5 661,569 660.2,569.4 C656,569.5 652,569 649.4,567.6 C645,565 642,563 640.3,560.3 C638.5,557.5 637.8,554 638.5,551.3 Z" fill="#d4aa52"/>
  <path d="M641,553 C643,556 646,560 652,564" fill="none" stroke="#ecd088" stroke-width="1.2"/>
  <path d="M662,567.6 C666,569 670,570 672.9,571.2 C674,576 674.5,581 674.7,585.7" fill="none" stroke="#d2ac44" stroke-width="1.3"/>
  <path d="M675.3,557.6 C680,550 684,546 687.8,543.4 C692,540 695,538 698.5,536.3" fill="none" stroke="#d8b048" stroke-width="1.1"/>
  <!-- blue network -->
  <g fill="none" stroke="#3a8ed0">
    <path d="M677,507 C676,512 672,514 665.6,516.9 C661,521 658,524 654.8,527.8 C650,532 646,536 642.1,540.4 C639,546 637.5,551 636.7,556.7 C636,563 635.5,569 634.9,574.8 C633,579 631.5,582 629.5,585.7" stroke-width="2.6"/>
    <path d="M665.6,516.9 C664.5,523 664,529 663.8,535 C665,540 667,544 669.2,547.7 C671,553 673,558 674.7,564" stroke-width="2.8"/>
    <path d="M654.8,527.8 C650,528 646,528 642.1,527.8 C638,528.5 634,529 631.3,529.6" stroke-width="1.6"/>
    <path d="M651,522.4 C650,519 649,517 648,515 M646,532 C644,534 642,535 640,536" stroke-width="1.2"/>
    <path d="M676,509 C680,514 683,518 687.3,520.5 C692,520 696,519 700,518.7 C705,520 710,521 705.6,522 C710,525 715,528 719.8,530.9 C724,529 728,527 732,526" stroke-width="1.8"/>
    <path d="M663.8,535 C667,533 671,532 674.7,531.4 C678,531 681,531 684,531" stroke-width="1.5"/>
    <path d="M642.1,540.4 C645,543 648,545.5 651.2,547.7 C656,548.5 662,549 667.4,549.5" stroke-width="1.6"/>
    <path d="M687,527 C692,530 698,532 704,533 M700,536 C706,538 712,537 718,534" stroke-width="1.1"/>
    <path d="M634,565 C630,570 627,574 626,578 M638,545 C634,548 630,550 628,552" stroke-width="1.1"/>
  </g>
  <path d="M674.7,564 L680.7,596.8" stroke="#3a8ed0" stroke-width="6.5" fill="none"/>
  <path d="M673.5,566 L678.5,594" stroke="#78b8e8" stroke-width="1.6" fill="none"/>
  <path d="M676,570 C682,573 688,576 694.6,579" stroke="#3a8ed0" stroke-width="5" fill="none"/>
</g>

<text class="t lb" x="506.0" y="141.0" textLength="61.7" lengthAdjust="spacingAndGlyphs">nerve cells</text>
<text class="t lb" x="492.9" y="234.0" textLength="68.6" lengthAdjust="spacingAndGlyphs">cardiac cells</text>
<text class="t lb" x="482.4" y="313.0" textLength="68.6" lengthAdjust="spacingAndGlyphs">muscle cells</text>
<text class="t lb" x="495.9" y="399.4" textLength="82.2" lengthAdjust="spacingAndGlyphs">intestinal cells</text>
<text class="t lb" x="490.2" y="509.4" textLength="53.8" lengthAdjust="spacingAndGlyphs">liver cells</text>
<text class="t lb" x="675.7" y="86.4" textLength="30.7" lengthAdjust="spacingAndGlyphs">brain</text>
<text class="t lb" x="668.7" y="220.6" textLength="31.9" lengthAdjust="spacingAndGlyphs">heart</text>
<text class="t lb" x="668.1" y="321.6" textLength="39.9" lengthAdjust="spacingAndGlyphs">muscle</text>
<text class="t lb" x="665.1" y="470.0" textLength="56.5" lengthAdjust="spacingAndGlyphs">intestines</text>
<text class="t lb" x="666.5" y="615.2" textLength="26.3" lengthAdjust="spacingAndGlyphs">liver</text>
<text class="t lb" x="38.8" y="362.0" textLength="61.1" lengthAdjust="spacingAndGlyphs">stem cells</text>
<text class="t lb" x="293.6" y="360.0" textLength="56.5" lengthAdjust="spacingAndGlyphs">stem cells</text>
<text class="t lb" x="300.1" y="375.0" textLength="44.1" lengthAdjust="spacingAndGlyphs">replica</text>
</svg>
</body></html>
